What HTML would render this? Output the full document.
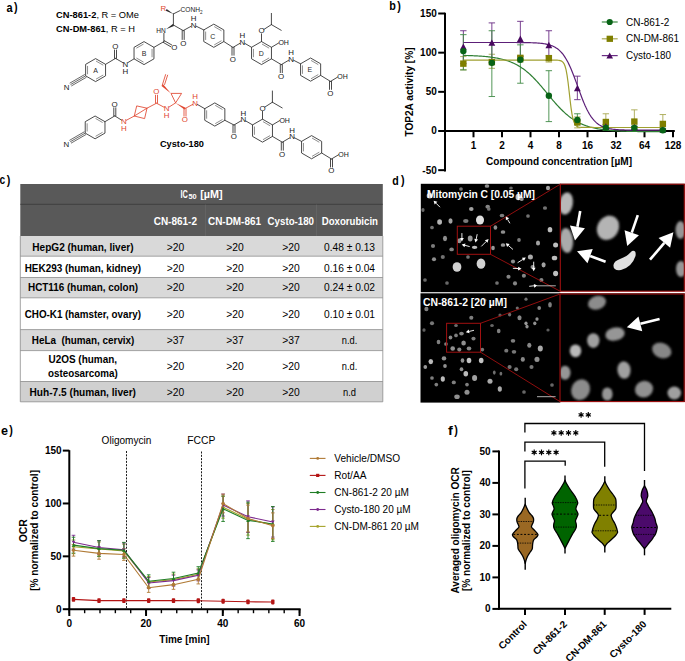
<!DOCTYPE html>
<html><head><meta charset="utf-8"><style>
html,body{margin:0;padding:0;background:#fff;}
body{width:685px;height:661px;overflow:hidden;}
svg{display:block;font-family:"Liberation Sans",sans-serif;}
</style></head><body>
<svg width="685" height="661" viewBox="0 0 685 661">
<defs>
<filter id="bl" x="-50%" y="-50%" width="200%" height="200%"><feGaussianBlur stdDeviation="0.6"/></filter>
<filter id="bl3" x="-50%" y="-50%" width="200%" height="200%"><feGaussianBlur stdDeviation="0.75"/></filter>
<filter id="bl2" x="-50%" y="-50%" width="200%" height="200%"><feGaussianBlur stdDeviation="1.2"/></filter>
</defs>
<text x="6.5" y="11.7" font-size="13" font-weight="bold" text-anchor="start" fill="#000" textLength="6.1" lengthAdjust="spacingAndGlyphs" >a</text>
<text x="14.1" y="11.3" font-size="13" font-weight="bold" text-anchor="start" fill="#000" textLength="3.6" lengthAdjust="spacingAndGlyphs" >)</text>
<text x="389.2" y="9.9" font-size="13" font-weight="bold" text-anchor="start" fill="#000" textLength="6.6" lengthAdjust="spacingAndGlyphs" >b</text>
<text x="397.2" y="9.5" font-size="13" font-weight="bold" text-anchor="start" fill="#000" textLength="3.6" lengthAdjust="spacingAndGlyphs" >)</text>
<text x="-0.6" y="184.3" font-size="13" font-weight="bold" text-anchor="start" fill="#000" textLength="5.7" lengthAdjust="spacingAndGlyphs" >c</text>
<text x="6.7" y="183.8" font-size="13" font-weight="bold" text-anchor="start" fill="#000" textLength="3.6" lengthAdjust="spacingAndGlyphs" >)</text>
<text x="392.3" y="184.6" font-size="13" font-weight="bold" text-anchor="start" fill="#000" textLength="6.5" lengthAdjust="spacingAndGlyphs" >d</text>
<text x="401" y="183.8" font-size="13" font-weight="bold" text-anchor="start" fill="#000" textLength="3.6" lengthAdjust="spacingAndGlyphs" >)</text>
<text x="1.1" y="434.8" font-size="13" font-weight="bold" text-anchor="start" fill="#000" textLength="7" lengthAdjust="spacingAndGlyphs" >e</text>
<text x="9.3" y="434.4" font-size="13" font-weight="bold" text-anchor="start" fill="#000" textLength="3.6" lengthAdjust="spacingAndGlyphs" >)</text>
<text x="448.1" y="434.7" font-size="13" font-weight="bold" text-anchor="start" fill="#000" textLength="4.8" lengthAdjust="spacingAndGlyphs" >f</text>
<text x="454.3" y="434.4" font-size="13" font-weight="bold" text-anchor="start" fill="#000" textLength="3.6" lengthAdjust="spacingAndGlyphs" >)</text>
<rect x="20.3" y="184" width="362.5" height="52" fill="#595959" />
<line x1="20.3" y1="204.3" x2="382.8" y2="204.3" stroke="#3a3a3a" stroke-width="0.8" />
<line x1="205.5" y1="204.5" x2="205.5" y2="236" stroke="#6a6a6a" stroke-width="0.6" />
<line x1="316.5" y1="204.5" x2="316.5" y2="236" stroke="#6a6a6a" stroke-width="0.6" />
<rect x="20.3" y="236" width="362.5" height="20.2" fill="#d9d9d9" />
<rect x="20.3" y="256.2" width="362.5" height="21.3" fill="#ffffff" />
<rect x="20.3" y="277.5" width="362.5" height="20.3" fill="#d9d9d9" />
<rect x="20.3" y="297.8" width="362.5" height="31.8" fill="#ffffff" />
<rect x="20.3" y="329.6" width="362.5" height="21" fill="#d9d9d9" />
<rect x="20.3" y="350.6" width="362.5" height="30.9" fill="#ffffff" />
<rect x="20.3" y="381.5" width="362.5" height="20.3" fill="#d0d0d0" />
<line x1="20.3" y1="256.2" x2="382.8" y2="256.2" stroke="#8c8c8c" stroke-width="0.8" />
<line x1="20.3" y1="277.5" x2="382.8" y2="277.5" stroke="#8c8c8c" stroke-width="0.8" />
<line x1="20.3" y1="297.8" x2="382.8" y2="297.8" stroke="#8c8c8c" stroke-width="0.8" />
<line x1="20.3" y1="329.6" x2="382.8" y2="329.6" stroke="#8c8c8c" stroke-width="0.8" />
<line x1="20.3" y1="350.6" x2="382.8" y2="350.6" stroke="#8c8c8c" stroke-width="0.8" />
<line x1="20.3" y1="381.5" x2="382.8" y2="381.5" stroke="#8c8c8c" stroke-width="0.8" />
<line x1="20.3" y1="401.8" x2="382.8" y2="401.8" stroke="#8c8c8c" stroke-width="0.8" />
<line x1="20.3" y1="236" x2="20.3" y2="401.8" stroke="#8c8c8c" stroke-width="0.8" />
<line x1="382.8" y1="236" x2="382.8" y2="401.8" stroke="#8c8c8c" stroke-width="0.8" />
<text x="180.5" y="198.4" font-size="10" font-weight="bold" text-anchor="start" fill="#fff" textLength="7.4" lengthAdjust="spacingAndGlyphs" >IC</text>
<text x="188.4" y="199.3" font-size="6.5" font-weight="bold" text-anchor="start" fill="#fff" textLength="8.2" lengthAdjust="spacingAndGlyphs" >50</text>
<text x="200.2" y="198.4" font-size="10" font-weight="bold" text-anchor="start" fill="#fff" textLength="22.4" lengthAdjust="spacingAndGlyphs" >[µM]</text>
<text x="153.7" y="224.7" font-size="10" font-weight="bold" text-anchor="start" fill="#fff" textLength="43.3" lengthAdjust="spacingAndGlyphs" >CN-861-2</text>
<text x="208" y="224.7" font-size="10" font-weight="bold" text-anchor="start" fill="#fff" textLength="53" lengthAdjust="spacingAndGlyphs" >CN-DM-861</text>
<text x="267.6" y="224.7" font-size="10" font-weight="bold" text-anchor="start" fill="#fff" textLength="46.4" lengthAdjust="spacingAndGlyphs" >Cysto-180</text>
<text x="321.7" y="224.7" font-size="10" font-weight="bold" text-anchor="start" fill="#fff" textLength="56.3" lengthAdjust="spacingAndGlyphs" >Doxorubicin</text>
<text x="32.3" y="250.8" font-size="10" font-weight="bold" text-anchor="start" fill="#000" textLength="101.2" lengthAdjust="spacingAndGlyphs" >HepG2 (human, liver)</text>
<text x="175.5" y="250.8" font-size="10" font-weight="normal" text-anchor="middle" fill="#000" textLength="17.5" lengthAdjust="spacingAndGlyphs" >&gt;20</text>
<text x="235" y="250.8" font-size="10" font-weight="normal" text-anchor="middle" fill="#000" textLength="17.5" lengthAdjust="spacingAndGlyphs" >&gt;20</text>
<text x="291" y="250.8" font-size="10" font-weight="normal" text-anchor="middle" fill="#000" textLength="17.5" lengthAdjust="spacingAndGlyphs" >&gt;20</text>
<text x="349.5" y="250.8" font-size="10" font-weight="normal" text-anchor="middle" fill="#000" textLength="51" lengthAdjust="spacingAndGlyphs" >0.48 ± 0.13</text>
<text x="24.7" y="271.5" font-size="10" font-weight="bold" text-anchor="start" fill="#000" textLength="116.3" lengthAdjust="spacingAndGlyphs" >HEK293 (human, kidney)</text>
<text x="175.5" y="271.5" font-size="10" font-weight="normal" text-anchor="middle" fill="#000" textLength="17.5" lengthAdjust="spacingAndGlyphs" >&gt;20</text>
<text x="235" y="271.5" font-size="10" font-weight="normal" text-anchor="middle" fill="#000" textLength="17.5" lengthAdjust="spacingAndGlyphs" >&gt;20</text>
<text x="291" y="271.5" font-size="10" font-weight="normal" text-anchor="middle" fill="#000" textLength="17.5" lengthAdjust="spacingAndGlyphs" >&gt;20</text>
<text x="349.5" y="271.5" font-size="10" font-weight="normal" text-anchor="middle" fill="#000" textLength="51" lengthAdjust="spacingAndGlyphs" >0.16 ± 0.04</text>
<text x="28" y="291.2" font-size="10" font-weight="bold" text-anchor="start" fill="#000" textLength="110" lengthAdjust="spacingAndGlyphs" >HCT116 (human, colon)</text>
<text x="175.5" y="291.2" font-size="10" font-weight="normal" text-anchor="middle" fill="#000" textLength="17.5" lengthAdjust="spacingAndGlyphs" >&gt;20</text>
<text x="235" y="291.2" font-size="10" font-weight="normal" text-anchor="middle" fill="#000" textLength="17.5" lengthAdjust="spacingAndGlyphs" >&gt;20</text>
<text x="291" y="291.2" font-size="10" font-weight="normal" text-anchor="middle" fill="#000" textLength="17.5" lengthAdjust="spacingAndGlyphs" >&gt;20</text>
<text x="349.5" y="291.2" font-size="10" font-weight="normal" text-anchor="middle" fill="#000" textLength="51" lengthAdjust="spacingAndGlyphs" >0.24 ± 0.02</text>
<text x="24.7" y="317.8" font-size="10" font-weight="bold" text-anchor="start" fill="#000" textLength="116.3" lengthAdjust="spacingAndGlyphs" >CHO-K1 (hamster, ovary)</text>
<text x="175.5" y="317.8" font-size="10" font-weight="normal" text-anchor="middle" fill="#000" textLength="17.5" lengthAdjust="spacingAndGlyphs" >&gt;20</text>
<text x="235" y="317.8" font-size="10" font-weight="normal" text-anchor="middle" fill="#000" textLength="17.5" lengthAdjust="spacingAndGlyphs" >&gt;20</text>
<text x="291" y="317.8" font-size="10" font-weight="normal" text-anchor="middle" fill="#000" textLength="17.5" lengthAdjust="spacingAndGlyphs" >&gt;20</text>
<text x="349.5" y="317.8" font-size="10" font-weight="normal" text-anchor="middle" fill="#000" textLength="51" lengthAdjust="spacingAndGlyphs" >0.10 ± 0.01</text>
<text x="31.8" y="343.8" font-size="10" font-weight="bold" text-anchor="start" fill="#000" textLength="102.6" lengthAdjust="spacingAndGlyphs" >HeLa&#160; (human, cervix)</text>
<text x="175.5" y="343.8" font-size="10" font-weight="normal" text-anchor="middle" fill="#000" textLength="17.5" lengthAdjust="spacingAndGlyphs" >&gt;37</text>
<text x="235" y="343.8" font-size="10" font-weight="normal" text-anchor="middle" fill="#000" textLength="17.5" lengthAdjust="spacingAndGlyphs" >&gt;37</text>
<text x="291" y="343.8" font-size="10" font-weight="normal" text-anchor="middle" fill="#000" textLength="17.5" lengthAdjust="spacingAndGlyphs" >&gt;37</text>
<text x="349.5" y="343.8" font-size="10" font-weight="normal" text-anchor="middle" fill="#000" textLength="15.5" lengthAdjust="spacingAndGlyphs" >n.d.</text>
<text x="175.5" y="369.8" font-size="10" font-weight="normal" text-anchor="middle" fill="#000" textLength="17.5" lengthAdjust="spacingAndGlyphs" >&gt;20</text>
<text x="235" y="369.8" font-size="10" font-weight="normal" text-anchor="middle" fill="#000" textLength="17.5" lengthAdjust="spacingAndGlyphs" >&gt;20</text>
<text x="291" y="369.8" font-size="10" font-weight="normal" text-anchor="middle" fill="#000" textLength="17.5" lengthAdjust="spacingAndGlyphs" >&gt;20</text>
<text x="349.5" y="369.8" font-size="10" font-weight="normal" text-anchor="middle" fill="#000" textLength="15.5" lengthAdjust="spacingAndGlyphs" >n.d.</text>
<text x="29.5" y="396" font-size="10" font-weight="bold" text-anchor="start" fill="#000" textLength="106.5" lengthAdjust="spacingAndGlyphs" >Huh-7.5 (human, liver)</text>
<text x="175.5" y="396" font-size="10" font-weight="normal" text-anchor="middle" fill="#000" textLength="17.5" lengthAdjust="spacingAndGlyphs" >&gt;20</text>
<text x="235" y="396" font-size="10" font-weight="normal" text-anchor="middle" fill="#000" textLength="17.5" lengthAdjust="spacingAndGlyphs" >&gt;20</text>
<text x="291" y="396" font-size="10" font-weight="normal" text-anchor="middle" fill="#000" textLength="17.5" lengthAdjust="spacingAndGlyphs" >&gt;20</text>
<text x="349.5" y="396" font-size="10" font-weight="normal" text-anchor="middle" fill="#000" textLength="13" lengthAdjust="spacingAndGlyphs" >n.d</text>
<text x="48.5" y="363.4" font-size="10" font-weight="bold" text-anchor="start" fill="#000" textLength="68.5" lengthAdjust="spacingAndGlyphs" >U2OS (human,</text>
<text x="48" y="376.6" font-size="10" font-weight="bold" text-anchor="start" fill="#000" textLength="69.7" lengthAdjust="spacingAndGlyphs" >osteosarcoma)</text>
<rect x="420.8" y="183.8" width="139.5" height="108.4" fill="#000" />
<rect x="420.5" y="293.3" width="139.8" height="109.3" fill="#000" />
<rect x="560" y="183.8" width="124.8" height="107.4" fill="#000" />
<rect x="559.5" y="293.3" width="125.3" height="108.7" fill="#000" />
<ellipse cx="429.7" cy="195.8" rx="2.99" ry="2.76" fill="rgb(180,180,180)" filter="url(#bl3)" transform="rotate(0 429.7 195.8)"/>
<ellipse cx="471.3" cy="209" rx="2.3" ry="2.07" fill="rgb(161,161,161)" filter="url(#bl3)" transform="rotate(0 471.3 209)"/>
<ellipse cx="480" cy="220" rx="4.02" ry="4.48" fill="rgb(223,223,223)" filter="url(#bl3)" transform="rotate(0 480 220)"/>
<ellipse cx="487.7" cy="206.7" rx="2.3" ry="1.84" fill="rgb(133,133,133)" filter="url(#bl3)" transform="rotate(0 487.7 206.7)"/>
<ellipse cx="439.6" cy="222" rx="2.42" ry="2.64" fill="rgb(180,180,180)" filter="url(#bl3)" transform="rotate(0 439.6 222)"/>
<ellipse cx="450.5" cy="221" rx="2.07" ry="2.64" fill="rgb(161,161,161)" filter="url(#bl3)" transform="rotate(0 450.5 221)"/>
<ellipse cx="465.8" cy="221" rx="2.76" ry="1.95" fill="rgb(123,123,123)" filter="url(#bl3)" transform="rotate(0 465.8 221)"/>
<ellipse cx="433" cy="246" rx="2.07" ry="2.07" fill="rgb(123,123,123)" filter="url(#bl3)" transform="rotate(0 433 246)"/>
<ellipse cx="445" cy="238.5" rx="2.07" ry="2.64" fill="rgb(142,142,142)" filter="url(#bl3)" transform="rotate(0 445 238.5)"/>
<ellipse cx="451.6" cy="249.4" rx="2.3" ry="1.84" fill="rgb(133,133,133)" filter="url(#bl3)" transform="rotate(0 451.6 249.4)"/>
<ellipse cx="470.2" cy="238.5" rx="2.42" ry="2.88" fill="rgb(152,152,152)" filter="url(#bl3)" transform="rotate(0 470.2 238.5)"/>
<ellipse cx="474.6" cy="247.3" rx="2.76" ry="1.61" fill="rgb(190,190,190)" filter="url(#bl3)" transform="rotate(0 474.6 247.3)"/>
<ellipse cx="459.3" cy="240.7" rx="2.07" ry="2.53" fill="rgb(152,152,152)" filter="url(#bl3)" transform="rotate(0 459.3 240.7)"/>
<ellipse cx="434" cy="259.3" rx="2.07" ry="2.07" fill="rgb(142,142,142)" filter="url(#bl3)" transform="rotate(0 434 259.3)"/>
<ellipse cx="442.8" cy="257" rx="2.07" ry="2.07" fill="rgb(114,114,114)" filter="url(#bl3)" transform="rotate(0 442.8 257)"/>
<ellipse cx="457" cy="267" rx="4.37" ry="4.83" fill="rgb(209,209,209)" filter="url(#bl3)" transform="rotate(0 457 267)"/>
<ellipse cx="481" cy="263.7" rx="4.37" ry="5.17" fill="rgb(209,209,209)" filter="url(#bl3)" transform="rotate(0 481 263.7)"/>
<ellipse cx="468" cy="257" rx="1.84" ry="1.84" fill="rgb(114,114,114)" filter="url(#bl3)" transform="rotate(0 468 257)"/>
<ellipse cx="495.4" cy="227.5" rx="1.84" ry="2.3" fill="rgb(142,142,142)" filter="url(#bl3)" transform="rotate(0 495.4 227.5)"/>
<ellipse cx="503" cy="232" rx="2.3" ry="1.84" fill="rgb(142,142,142)" filter="url(#bl3)" transform="rotate(0 503 232)"/>
<ellipse cx="503" cy="245" rx="2.3" ry="1.84" fill="rgb(152,152,152)" filter="url(#bl3)" transform="rotate(0 503 245)"/>
<ellipse cx="502" cy="215.5" rx="2.3" ry="1.84" fill="rgb(123,123,123)" filter="url(#bl3)" transform="rotate(0 502 215.5)"/>
<ellipse cx="488.8" cy="209" rx="1.84" ry="1.84" fill="rgb(114,114,114)" filter="url(#bl3)" transform="rotate(0 488.8 209)"/>
<ellipse cx="518.4" cy="197" rx="2.88" ry="3.22" fill="rgb(190,190,190)" filter="url(#bl3)" transform="rotate(0 518.4 197)"/>
<ellipse cx="521.7" cy="199" rx="2.07" ry="2.07" fill="rgb(152,152,152)" filter="url(#bl3)" transform="rotate(0 521.7 199)"/>
<ellipse cx="548" cy="188" rx="2.07" ry="2.3" fill="rgb(161,161,161)" filter="url(#bl3)" transform="rotate(0 548 188)"/>
<ellipse cx="550" cy="229.7" rx="2.3" ry="2.64" fill="rgb(190,190,190)" filter="url(#bl3)" transform="rotate(0 550 229.7)"/>
<ellipse cx="538" cy="243" rx="2.07" ry="2.53" fill="rgb(161,161,161)" filter="url(#bl3)" transform="rotate(0 538 243)"/>
<ellipse cx="555.6" cy="245" rx="2.53" ry="2.53" fill="rgb(190,190,190)" filter="url(#bl3)" transform="rotate(0 555.6 245)"/>
<ellipse cx="530.4" cy="257" rx="2.53" ry="2.53" fill="rgb(171,171,171)" filter="url(#bl3)" transform="rotate(0 530.4 257)"/>
<ellipse cx="513" cy="261.5" rx="2.07" ry="2.07" fill="rgb(142,142,142)" filter="url(#bl3)" transform="rotate(0 513 261.5)"/>
<ellipse cx="543.6" cy="264.8" rx="2.07" ry="2.64" fill="rgb(161,161,161)" filter="url(#bl3)" transform="rotate(0 543.6 264.8)"/>
<ellipse cx="554.5" cy="258" rx="2.76" ry="2.3" fill="rgb(190,190,190)" filter="url(#bl3)" transform="rotate(0 554.5 258)"/>
<ellipse cx="555.6" cy="273.5" rx="2.53" ry="2.76" fill="rgb(190,190,190)" filter="url(#bl3)" transform="rotate(0 555.6 273.5)"/>
<ellipse cx="508.5" cy="276.8" rx="2.07" ry="2.07" fill="rgb(133,133,133)" filter="url(#bl3)" transform="rotate(0 508.5 276.8)"/>
<ellipse cx="523.9" cy="275.7" rx="2.07" ry="2.07" fill="rgb(133,133,133)" filter="url(#bl3)" transform="rotate(0 523.9 275.7)"/>
<ellipse cx="532.6" cy="267" rx="2.07" ry="2.07" fill="rgb(142,142,142)" filter="url(#bl3)" transform="rotate(0 532.6 267)"/>
<ellipse cx="515" cy="283.4" rx="2.07" ry="2.07" fill="rgb(133,133,133)" filter="url(#bl3)" transform="rotate(0 515 283.4)"/>
<ellipse cx="541.4" cy="280" rx="2.07" ry="2.07" fill="rgb(133,133,133)" filter="url(#bl3)" transform="rotate(0 541.4 280)"/>
<ellipse cx="487" cy="186" rx="2.3" ry="1.84" fill="rgb(142,142,142)" filter="url(#bl3)" transform="rotate(0 487 186)"/>
<ellipse cx="432" cy="227.5" rx="1.84" ry="1.84" fill="rgb(114,114,114)" filter="url(#bl3)" transform="rotate(0 432 227.5)"/>
<ellipse cx="493" cy="248" rx="1.84" ry="2.3" fill="rgb(152,152,152)" filter="url(#bl3)" transform="rotate(0 493 248)"/>
<ellipse cx="461" cy="189" rx="1.84" ry="1.84" fill="rgb(114,114,114)" filter="url(#bl3)" transform="rotate(0 461 189)"/>
<ellipse cx="511" cy="188" rx="1.84" ry="1.61" fill="rgb(104,104,104)" filter="url(#bl3)" transform="rotate(0 511 188)"/>
<ellipse cx="528" cy="216" rx="1.84" ry="1.84" fill="rgb(114,114,114)" filter="url(#bl3)" transform="rotate(0 528 216)"/>
<ellipse cx="545" cy="208" rx="2.07" ry="1.84" fill="rgb(114,114,114)" filter="url(#bl3)" transform="rotate(0 545 208)"/>
<ellipse cx="423" cy="210" rx="1.61" ry="2.07" fill="rgb(104,104,104)" filter="url(#bl3)" transform="rotate(0 423 210)"/>
<ellipse cx="425" cy="280" rx="1.84" ry="1.84" fill="rgb(104,104,104)" filter="url(#bl3)" transform="rotate(0 425 280)"/>
<ellipse cx="447" cy="283" rx="1.84" ry="1.84" fill="rgb(104,104,104)" filter="url(#bl3)" transform="rotate(0 447 283)"/>
<ellipse cx="497" cy="283" rx="1.84" ry="1.84" fill="rgb(114,114,114)" filter="url(#bl3)" transform="rotate(0 497 283)"/>
<ellipse cx="519" cy="240" rx="1.84" ry="2.07" fill="rgb(123,123,123)" filter="url(#bl3)" transform="rotate(0 519 240)"/>
<ellipse cx="426.4" cy="309" rx="2.07" ry="2.3" fill="rgb(127,127,127)" filter="url(#bl3)" transform="rotate(0 426.4 309)"/>
<ellipse cx="432" cy="323.3" rx="2.07" ry="2.07" fill="rgb(119,119,119)" filter="url(#bl3)" transform="rotate(0 432 323.3)"/>
<ellipse cx="438.5" cy="342" rx="1.84" ry="2.3" fill="rgb(127,127,127)" filter="url(#bl3)" transform="rotate(0 438.5 342)"/>
<ellipse cx="430.8" cy="361.6" rx="2.3" ry="2.53" fill="rgb(187,187,187)" filter="url(#bl3)" transform="rotate(0 430.8 361.6)"/>
<ellipse cx="425.3" cy="367" rx="1.84" ry="2.07" fill="rgb(153,153,153)" filter="url(#bl3)" transform="rotate(0 425.3 367)"/>
<ellipse cx="444" cy="358.4" rx="2.3" ry="2.07" fill="rgb(144,144,144)" filter="url(#bl3)" transform="rotate(0 444 358.4)"/>
<ellipse cx="445" cy="366" rx="1.84" ry="2.07" fill="rgb(144,144,144)" filter="url(#bl3)" transform="rotate(0 445 366)"/>
<ellipse cx="442.8" cy="379" rx="2.07" ry="2.76" fill="rgb(187,187,187)" filter="url(#bl3)" transform="rotate(0 442.8 379)"/>
<ellipse cx="432" cy="378" rx="1.84" ry="1.84" fill="rgb(127,127,127)" filter="url(#bl3)" transform="rotate(0 432 378)"/>
<ellipse cx="436.3" cy="384.6" rx="1.84" ry="1.84" fill="rgb(127,127,127)" filter="url(#bl3)" transform="rotate(0 436.3 384.6)"/>
<ellipse cx="453.8" cy="382.4" rx="2.07" ry="1.84" fill="rgb(127,127,127)" filter="url(#bl3)" transform="rotate(0 453.8 382.4)"/>
<ellipse cx="457" cy="396.7" rx="2.76" ry="2.3" fill="rgb(144,144,144)" filter="url(#bl3)" transform="rotate(0 457 396.7)"/>
<ellipse cx="467" cy="392.3" rx="2.53" ry="2.53" fill="rgb(144,144,144)" filter="url(#bl3)" transform="rotate(0 467 392.3)"/>
<ellipse cx="462.5" cy="360.5" rx="1.84" ry="2.3" fill="rgb(144,144,144)" filter="url(#bl3)" transform="rotate(0 462.5 360.5)"/>
<ellipse cx="469" cy="360.5" rx="2.3" ry="2.76" fill="rgb(195,195,195)" filter="url(#bl3)" transform="rotate(0 469 360.5)"/>
<ellipse cx="481.2" cy="360.5" rx="2.3" ry="2.76" fill="rgb(195,195,195)" filter="url(#bl3)" transform="rotate(0 481.2 360.5)"/>
<ellipse cx="461.5" cy="369.3" rx="1.84" ry="2.07" fill="rgb(144,144,144)" filter="url(#bl3)" transform="rotate(0 461.5 369.3)"/>
<ellipse cx="465.8" cy="373.7" rx="2.3" ry="2.76" fill="rgb(187,187,187)" filter="url(#bl3)" transform="rotate(0 465.8 373.7)"/>
<ellipse cx="474.6" cy="378" rx="2.53" ry="2.99" fill="rgb(161,161,161)" filter="url(#bl3)" transform="rotate(0 474.6 378)"/>
<ellipse cx="467" cy="384.6" rx="1.84" ry="1.84" fill="rgb(127,127,127)" filter="url(#bl3)" transform="rotate(0 467 384.6)"/>
<ellipse cx="490" cy="381.3" rx="2.53" ry="2.53" fill="rgb(170,170,170)" filter="url(#bl3)" transform="rotate(0 490 381.3)"/>
<ellipse cx="499.8" cy="389" rx="2.07" ry="2.76" fill="rgb(170,170,170)" filter="url(#bl3)" transform="rotate(0 499.8 389)"/>
<ellipse cx="494.3" cy="372.6" rx="1.38" ry="2.07" fill="rgb(110,110,110)" filter="url(#bl3)" transform="rotate(0 494.3 372.6)"/>
<ellipse cx="500.9" cy="373.7" rx="1.38" ry="1.84" fill="rgb(110,110,110)" filter="url(#bl3)" transform="rotate(0 500.9 373.7)"/>
<ellipse cx="509.6" cy="367" rx="2.07" ry="2.07" fill="rgb(119,119,119)" filter="url(#bl3)" transform="rotate(0 509.6 367)"/>
<ellipse cx="516.2" cy="369.3" rx="2.07" ry="2.07" fill="rgb(119,119,119)" filter="url(#bl3)" transform="rotate(0 516.2 369.3)"/>
<ellipse cx="531.5" cy="367" rx="2.07" ry="2.07" fill="rgb(119,119,119)" filter="url(#bl3)" transform="rotate(0 531.5 367)"/>
<ellipse cx="537" cy="359.4" rx="2.53" ry="2.53" fill="rgb(144,144,144)" filter="url(#bl3)" transform="rotate(0 537 359.4)"/>
<ellipse cx="522.8" cy="359.4" rx="2.07" ry="2.3" fill="rgb(136,136,136)" filter="url(#bl3)" transform="rotate(0 522.8 359.4)"/>
<ellipse cx="506.3" cy="350.7" rx="2.07" ry="1.84" fill="rgb(119,119,119)" filter="url(#bl3)" transform="rotate(0 506.3 350.7)"/>
<ellipse cx="514" cy="351.8" rx="2.3" ry="1.84" fill="rgb(119,119,119)" filter="url(#bl3)" transform="rotate(0 514 351.8)"/>
<ellipse cx="529.3" cy="345.2" rx="2.07" ry="2.53" fill="rgb(136,136,136)" filter="url(#bl3)" transform="rotate(0 529.3 345.2)"/>
<ellipse cx="540.3" cy="348.5" rx="2.53" ry="2.99" fill="rgb(170,170,170)" filter="url(#bl3)" transform="rotate(0 540.3 348.5)"/>
<ellipse cx="513" cy="340.8" rx="2.3" ry="1.84" fill="rgb(127,127,127)" filter="url(#bl3)" transform="rotate(0 513 340.8)"/>
<ellipse cx="492" cy="325.5" rx="1.84" ry="1.61" fill="rgb(102,102,102)" filter="url(#bl3)" transform="rotate(0 492 325.5)"/>
<ellipse cx="498.7" cy="331" rx="1.84" ry="2.3" fill="rgb(127,127,127)" filter="url(#bl3)" transform="rotate(0 498.7 331)"/>
<ellipse cx="519.5" cy="317.8" rx="2.07" ry="2.53" fill="rgb(136,136,136)" filter="url(#bl3)" transform="rotate(0 519.5 317.8)"/>
<ellipse cx="526" cy="323.3" rx="1.61" ry="1.84" fill="rgb(153,153,153)" filter="url(#bl3)" transform="rotate(0 526 323.3)"/>
<ellipse cx="534.8" cy="323.3" rx="1.61" ry="1.84" fill="rgb(144,144,144)" filter="url(#bl3)" transform="rotate(0 534.8 323.3)"/>
<ellipse cx="537" cy="319" rx="1.61" ry="1.84" fill="rgb(144,144,144)" filter="url(#bl3)" transform="rotate(0 537 319)"/>
<ellipse cx="527" cy="326.6" rx="1.61" ry="1.84" fill="rgb(144,144,144)" filter="url(#bl3)" transform="rotate(0 527 326.6)"/>
<ellipse cx="539.2" cy="308" rx="1.84" ry="2.07" fill="rgb(127,127,127)" filter="url(#bl3)" transform="rotate(0 539.2 308)"/>
<ellipse cx="517.3" cy="308" rx="1.61" ry="1.61" fill="rgb(110,110,110)" filter="url(#bl3)" transform="rotate(0 517.3 308)"/>
<ellipse cx="509.6" cy="314.6" rx="1.61" ry="1.84" fill="rgb(110,110,110)" filter="url(#bl3)" transform="rotate(0 509.6 314.6)"/>
<ellipse cx="526" cy="299.2" rx="1.61" ry="1.61" fill="rgb(110,110,110)" filter="url(#bl3)" transform="rotate(0 526 299.2)"/>
<ellipse cx="471.3" cy="317.8" rx="2.07" ry="2.07" fill="rgb(127,127,127)" filter="url(#bl3)" transform="rotate(0 471.3 317.8)"/>
<ellipse cx="456" cy="325.5" rx="1.84" ry="1.61" fill="rgb(110,110,110)" filter="url(#bl3)" transform="rotate(0 456 325.5)"/>
<ellipse cx="450.5" cy="337.5" rx="1.84" ry="2.07" fill="rgb(136,136,136)" filter="url(#bl3)" transform="rotate(0 450.5 337.5)"/>
<ellipse cx="456" cy="335.4" rx="1.84" ry="1.84" fill="rgb(127,127,127)" filter="url(#bl3)" transform="rotate(0 456 335.4)"/>
<ellipse cx="461.5" cy="333.6" rx="2.3" ry="1.84" fill="rgb(136,136,136)" filter="url(#bl3)" transform="rotate(0 461.5 333.6)"/>
<ellipse cx="473.5" cy="338.6" rx="2.07" ry="1.84" fill="rgb(127,127,127)" filter="url(#bl3)" transform="rotate(0 473.5 338.6)"/>
<ellipse cx="463.6" cy="343" rx="2.3" ry="2.53" fill="rgb(144,144,144)" filter="url(#bl3)" transform="rotate(0 463.6 343)"/>
<ellipse cx="452.7" cy="348.5" rx="2.3" ry="2.3" fill="rgb(144,144,144)" filter="url(#bl3)" transform="rotate(0 452.7 348.5)"/>
<ellipse cx="459.3" cy="349.6" rx="2.07" ry="2.07" fill="rgb(136,136,136)" filter="url(#bl3)" transform="rotate(0 459.3 349.6)"/>
<ellipse cx="469" cy="348.5" rx="2.3" ry="2.07" fill="rgb(136,136,136)" filter="url(#bl3)" transform="rotate(0 469 348.5)"/>
<ellipse cx="482.3" cy="349.6" rx="1.84" ry="1.84" fill="rgb(119,119,119)" filter="url(#bl3)" transform="rotate(0 482.3 349.6)"/>
<ellipse cx="446" cy="344" rx="1.84" ry="1.84" fill="rgb(127,127,127)" filter="url(#bl3)" transform="rotate(0 446 344)"/>
<ellipse cx="550" cy="304.7" rx="1.84" ry="2.76" fill="rgb(127,127,127)" filter="url(#bl3)" transform="rotate(0 550 304.7)"/>
<ellipse cx="424" cy="330" rx="1.61" ry="1.84" fill="rgb(93,93,93)" filter="url(#bl3)" transform="rotate(0 424 330)"/>
<ellipse cx="485" cy="300" rx="1.61" ry="1.61" fill="rgb(85,85,85)" filter="url(#bl3)" transform="rotate(0 485 300)"/>
<ellipse cx="500" cy="315" rx="1.61" ry="1.61" fill="rgb(93,93,93)" filter="url(#bl3)" transform="rotate(0 500 315)"/>
<ellipse cx="548" cy="330" rx="1.61" ry="1.61" fill="rgb(93,93,93)" filter="url(#bl3)" transform="rotate(0 548 330)"/>
<ellipse cx="552" cy="385" rx="1.84" ry="1.84" fill="rgb(102,102,102)" filter="url(#bl3)" transform="rotate(0 552 385)"/>
<ellipse cx="524" cy="392" rx="1.84" ry="1.84" fill="rgb(102,102,102)" filter="url(#bl3)" transform="rotate(0 524 392)"/>
<clipPath id="cz1"><rect x="560.8" y="184.6" width="123.2" height="106.2"/></clipPath>
<clipPath id="cz2"><rect x="560.5" y="294.4" width="123.4" height="106.8"/></clipPath>
<g clip-path="url(#cz1)">
<ellipse cx="566" cy="203.5" rx="6.8" ry="11.2" fill="rgb(185,185,185)" filter="url(#bl2)" transform="rotate(10 566 203.5)"/>
<ellipse cx="608" cy="227.8" rx="10.6" ry="12.6" fill="rgb(180,180,180)" filter="url(#bl2)" transform="rotate(30 608 227.8)"/>
<ellipse cx="566.5" cy="240.4" rx="6.6" ry="12.4" fill="rgb(170,170,170)" filter="url(#bl2)" transform="rotate(-5 566.5 240.4)"/>
<ellipse cx="680.5" cy="230" rx="5" ry="9" fill="rgb(150,150,150)" filter="url(#bl2)" transform="rotate(0 680.5 230)"/>
<ellipse cx="681" cy="269" rx="5" ry="8" fill="rgb(150,150,150)" filter="url(#bl2)" transform="rotate(0 681 269)"/>
<path d="M613.5,265 Q613,271 621,270 Q632,267 635.5,256 Q636.5,250 632,251 Q628,256 620,259 Q614,261 613.5,265 Z" fill="rgb(225,225,225)" filter="url(#bl)"/>
</g><g clip-path="url(#cz2)">
<ellipse cx="597" cy="302.7" rx="9.3" ry="6.8" fill="rgb(140,140,140)" filter="url(#bl2)" transform="rotate(-18 597 302.7)"/>
<ellipse cx="615" cy="334" rx="9.8" ry="6.6" fill="rgb(150,150,150)" filter="url(#bl2)" transform="rotate(-12 615 334)"/>
<ellipse cx="593.3" cy="340.6" rx="6.2" ry="7.4" fill="rgb(160,160,160)" filter="url(#bl2)" transform="rotate(0 593.3 340.6)"/>
<ellipse cx="575.5" cy="350.8" rx="5.8" ry="6.4" fill="rgb(185,185,185)" filter="url(#bl2)" transform="rotate(0 575.5 350.8)"/>
<ellipse cx="661.7" cy="350.5" rx="10" ry="7.6" fill="rgb(135,135,135)" filter="url(#bl2)" transform="rotate(22 661.7 350.5)"/>
<ellipse cx="565" cy="372.8" rx="5.6" ry="7" fill="rgb(150,150,150)" filter="url(#bl2)" transform="rotate(0 565 372.8)"/>
<ellipse cx="624" cy="370" rx="6.6" ry="8.8" fill="rgb(160,160,160)" filter="url(#bl2)" transform="rotate(-5 624 370)"/>
<ellipse cx="580.6" cy="389.7" rx="9.2" ry="10.6" fill="rgb(140,140,140)" filter="url(#bl2)" transform="rotate(25 580.6 389.7)"/>
<ellipse cx="607.3" cy="394" rx="5.3" ry="6.6" fill="rgb(150,150,150)" filter="url(#bl2)" transform="rotate(0 607.3 394)"/>
<ellipse cx="644" cy="389.2" rx="9.2" ry="8.2" fill="rgb(145,145,145)" filter="url(#bl2)" transform="rotate(-20 644 389.2)"/>
<ellipse cx="674.3" cy="393" rx="6.8" ry="6.4" fill="rgb(160,160,160)" filter="url(#bl2)" transform="rotate(0 674.3 393)"/>
</g>
<rect x="457.3" y="226.2" width="33.2" height="28.1" fill="none" stroke="#a01010" stroke-width="1"/>
<line x1="490.5" y1="226.2" x2="560.3" y2="184.2" stroke="#a01010" stroke-width="0.9" />
<line x1="490.5" y1="254.3" x2="560.3" y2="291.3" stroke="#a01010" stroke-width="0.9" />
<rect x="560.3" y="184.2" width="124" height="107" fill="none" stroke="#a01010" stroke-width="1.1"/>
<rect x="446.6" y="323.3" width="33.9" height="28.9" fill="none" stroke="#a01010" stroke-width="1"/>
<line x1="480.5" y1="323.3" x2="560" y2="294" stroke="#a01010" stroke-width="0.9" />
<line x1="480.5" y1="352.2" x2="560" y2="401.6" stroke="#a01010" stroke-width="0.9" />
<rect x="560" y="294" width="124.2" height="107.6" fill="none" stroke="#a01010" stroke-width="1.1"/>
<line x1="440" y1="207.2" x2="436" y2="203.2" stroke="#fff" stroke-width="0.9" />
<polygon points="433.6,200.8 437.35,201.86 434.66,204.55" fill="#fff"/>
<line x1="509.9" y1="223.3" x2="507.54" y2="219.32" stroke="#fff" stroke-width="0.9" />
<polygon points="505.8,216.4 509.17,218.35 505.9,220.29" fill="#fff"/>
<line x1="513" y1="249.5" x2="508.38" y2="245.52" stroke="#fff" stroke-width="0.9" />
<polygon points="505.8,243.3 509.62,244.08 507.14,246.96" fill="#fff"/>
<line x1="517.6" y1="262.7" x2="522.91" y2="259.4" stroke="#fff" stroke-width="0.9" />
<polygon points="525.8,257.6 523.92,261.01 521.91,257.78" fill="#fff"/>
<line x1="512.9" y1="268.3" x2="518.1" y2="268.54" stroke="#fff" stroke-width="0.9" />
<polygon points="521.5,268.7 518.02,270.44 518.19,266.64" fill="#fff"/>
<line x1="533.7" y1="261.7" x2="533.7" y2="267.8" stroke="#fff" stroke-width="0.9" />
<polygon points="533.7,271.2 531.8,267.8 535.6,267.8" fill="#fff"/>
<line x1="529.2" y1="286.3" x2="534.02" y2="285.77" stroke="#fff" stroke-width="0.9" />
<polygon points="537.4,285.4 534.23,287.66 533.81,283.88" fill="#fff"/>
<line x1="461.9" y1="233.1" x2="461.9" y2="238.1" stroke="#fff" stroke-width="0.9" />
<polygon points="461.9,241.5 460,238.1 463.8,238.1" fill="#fff"/>
<line x1="477.2" y1="234.2" x2="476.18" y2="239.17" stroke="#fff" stroke-width="0.9" />
<polygon points="475.5,242.5 474.32,238.79 478.04,239.55" fill="#fff"/>
<line x1="469.7" y1="246.6" x2="464.98" y2="245.3" stroke="#fff" stroke-width="0.9" />
<polygon points="461.7,244.4 465.48,243.47 464.47,247.13" fill="#fff"/>
<line x1="481.3" y1="246.4" x2="486.2" y2="241.5" stroke="#fff" stroke-width="0.9" />
<polygon points="488.6,239.1 487.54,242.85 484.85,240.16" fill="#fff"/>
<line x1="474" y1="330.3" x2="469.11" y2="331.43" stroke="#fff" stroke-width="0.9" />
<polygon points="465.8,332.2 468.68,329.58 469.54,333.28" fill="#fff"/>
<line x1="580.2" y1="211" x2="577.42" y2="226.81" stroke="#fff" stroke-width="2.6" />
<polygon points="575,240.6 569.94,225.5 584.91,228.13" fill="#fff"/>
<line x1="605.6" y1="261.8" x2="590.13" y2="256.07" stroke="#fff" stroke-width="2.6" />
<polygon points="577,251.2 592.77,248.94 587.49,263.19" fill="#fff"/>
<line x1="637.8" y1="215.2" x2="631.77" y2="232.67" stroke="#fff" stroke-width="2.6" />
<polygon points="627.2,245.9 624.59,230.19 638.95,235.15" fill="#fff"/>
<line x1="650" y1="259.7" x2="664.33" y2="242.86" stroke="#fff" stroke-width="2.6" />
<polygon points="673.4,232.2 670.12,247.79 658.54,237.94" fill="#fff"/>
<line x1="659.6" y1="318.9" x2="640.36" y2="323.83" stroke="#fff" stroke-width="2.6" />
<polygon points="626.8,327.3 638.48,316.46 642.25,331.19" fill="#fff"/>
<line x1="537" y1="285.8" x2="555.8" y2="285.8" stroke="#ddd" stroke-width="0.8" />
<line x1="537" y1="396.7" x2="555.6" y2="396.7" stroke="#ddd" stroke-width="0.8" />
<text x="427" y="197.8" font-size="10.8" font-weight="bold" text-anchor="start" fill="#fff" textLength="108" lengthAdjust="spacingAndGlyphs" >Mitomycin C [0.05 µM]</text>
<text x="422.9" y="306.4" font-size="11" font-weight="bold" text-anchor="start" fill="#fff" textLength="84" lengthAdjust="spacingAndGlyphs" >CN-861-2 [20 µM]</text>
<line x1="445" y1="12.8" x2="445" y2="171.5" stroke="#000" stroke-width="2" />
<line x1="438.2" y1="13.5" x2="445" y2="13.5" stroke="#000" stroke-width="2" />
<text x="436.8" y="16.9" font-size="10" font-weight="bold" text-anchor="end" fill="#000" >150</text>
<line x1="438.2" y1="52.67" x2="445" y2="52.67" stroke="#000" stroke-width="2" />
<text x="436.8" y="56.07" font-size="10" font-weight="bold" text-anchor="end" fill="#000" >100</text>
<line x1="438.2" y1="91.84" x2="445" y2="91.84" stroke="#000" stroke-width="2" />
<text x="436.8" y="95.24" font-size="10" font-weight="bold" text-anchor="end" fill="#000" >50</text>
<line x1="438.2" y1="131" x2="445" y2="131" stroke="#000" stroke-width="2" />
<text x="436.8" y="134.4" font-size="10" font-weight="bold" text-anchor="end" fill="#000" >0</text>
<line x1="438.2" y1="170.16" x2="445" y2="170.16" stroke="#000" stroke-width="2" />
<text x="436.8" y="173.56" font-size="10" font-weight="bold" text-anchor="end" fill="#000" >-50</text>
<line x1="444" y1="131" x2="674.8" y2="131" stroke="#000" stroke-width="2" />
<line x1="473.5" y1="131" x2="473.5" y2="137.3" stroke="#000" stroke-width="2" />
<text x="473.5" y="148.8" font-size="10" font-weight="bold" text-anchor="middle" fill="#000" >1</text>
<line x1="502" y1="131" x2="502" y2="137.3" stroke="#000" stroke-width="2" />
<text x="502" y="148.8" font-size="10" font-weight="bold" text-anchor="middle" fill="#000" >2</text>
<line x1="530.5" y1="131" x2="530.5" y2="137.3" stroke="#000" stroke-width="2" />
<text x="530.5" y="148.8" font-size="10" font-weight="bold" text-anchor="middle" fill="#000" >4</text>
<line x1="559" y1="131" x2="559" y2="137.3" stroke="#000" stroke-width="2" />
<text x="559" y="148.8" font-size="10" font-weight="bold" text-anchor="middle" fill="#000" >8</text>
<line x1="587.5" y1="131" x2="587.5" y2="137.3" stroke="#000" stroke-width="2" />
<text x="587.5" y="148.8" font-size="10" font-weight="bold" text-anchor="middle" fill="#000" >16</text>
<line x1="616" y1="131" x2="616" y2="137.3" stroke="#000" stroke-width="2" />
<text x="616" y="148.8" font-size="10" font-weight="bold" text-anchor="middle" fill="#000" >32</text>
<line x1="644.5" y1="131" x2="644.5" y2="137.3" stroke="#000" stroke-width="2" />
<text x="644.5" y="148.8" font-size="10" font-weight="bold" text-anchor="middle" fill="#000" >64</text>
<line x1="673" y1="131" x2="673" y2="137.3" stroke="#000" stroke-width="2" />
<text x="673" y="148.8" font-size="10" font-weight="bold" text-anchor="middle" fill="#000" >128</text>
<text x="486" y="164.9" font-size="10" font-weight="bold" text-anchor="start" fill="#000" textLength="146" lengthAdjust="spacingAndGlyphs" >Compound concentration [µM]</text>
<text x="413.3" y="92" font-size="10" font-weight="bold" text-anchor="middle" fill="#000" textLength="89" lengthAdjust="spacingAndGlyphs" transform="rotate(-90 413.3 92)">TOP2A activity [%]</text>
<line x1="463.35" y1="56.59" x2="463.35" y2="69.9" stroke="#a8a850" stroke-width="0.9" />
<line x1="460.15" y1="56.59" x2="466.55" y2="56.59" stroke="#a8a850" stroke-width="0.9" />
<line x1="460.15" y1="69.9" x2="466.55" y2="69.9" stroke="#a8a850" stroke-width="0.9" />
<line x1="491.85" y1="54.24" x2="491.85" y2="68.34" stroke="#a8a850" stroke-width="0.9" />
<line x1="488.65" y1="54.24" x2="495.05" y2="54.24" stroke="#a8a850" stroke-width="0.9" />
<line x1="488.65" y1="68.34" x2="495.05" y2="68.34" stroke="#a8a850" stroke-width="0.9" />
<line x1="520.35" y1="55.02" x2="520.35" y2="62.07" stroke="#a8a850" stroke-width="0.9" />
<line x1="517.15" y1="55.02" x2="523.55" y2="55.02" stroke="#a8a850" stroke-width="0.9" />
<line x1="517.15" y1="62.07" x2="523.55" y2="62.07" stroke="#a8a850" stroke-width="0.9" />
<line x1="548.85" y1="55.8" x2="548.85" y2="62.07" stroke="#a8a850" stroke-width="0.9" />
<line x1="545.65" y1="55.8" x2="552.05" y2="55.8" stroke="#a8a850" stroke-width="0.9" />
<line x1="545.65" y1="62.07" x2="552.05" y2="62.07" stroke="#a8a850" stroke-width="0.9" />
<line x1="577.35" y1="116.9" x2="577.35" y2="127.87" stroke="#a8a850" stroke-width="0.9" />
<line x1="574.15" y1="116.9" x2="580.55" y2="116.9" stroke="#a8a850" stroke-width="0.9" />
<line x1="574.15" y1="127.87" x2="580.55" y2="127.87" stroke="#a8a850" stroke-width="0.9" />
<line x1="605.85" y1="113.77" x2="605.85" y2="124.73" stroke="#a8a850" stroke-width="0.9" />
<line x1="602.65" y1="113.77" x2="609.05" y2="113.77" stroke="#a8a850" stroke-width="0.9" />
<line x1="602.65" y1="124.73" x2="609.05" y2="124.73" stroke="#a8a850" stroke-width="0.9" />
<line x1="634.35" y1="109.85" x2="634.35" y2="127.87" stroke="#a8a850" stroke-width="0.9" />
<line x1="631.15" y1="109.85" x2="637.55" y2="109.85" stroke="#a8a850" stroke-width="0.9" />
<line x1="631.15" y1="127.87" x2="637.55" y2="127.87" stroke="#a8a850" stroke-width="0.9" />
<line x1="662.85" y1="114.55" x2="662.85" y2="129.43" stroke="#a8a850" stroke-width="0.9" />
<line x1="659.65" y1="114.55" x2="666.05" y2="114.55" stroke="#a8a850" stroke-width="0.9" />
<line x1="659.65" y1="129.43" x2="666.05" y2="129.43" stroke="#a8a850" stroke-width="0.9" />
<line x1="463.35" y1="30.74" x2="463.35" y2="63.64" stroke="#6a2d84" stroke-width="0.9" />
<line x1="460.15" y1="30.74" x2="466.55" y2="30.74" stroke="#6a2d84" stroke-width="0.9" />
<line x1="460.15" y1="63.64" x2="466.55" y2="63.64" stroke="#6a2d84" stroke-width="0.9" />
<line x1="491.85" y1="22.9" x2="491.85" y2="62.07" stroke="#6a2d84" stroke-width="0.9" />
<line x1="488.65" y1="22.9" x2="495.05" y2="22.9" stroke="#6a2d84" stroke-width="0.9" />
<line x1="488.65" y1="62.07" x2="495.05" y2="62.07" stroke="#6a2d84" stroke-width="0.9" />
<line x1="520.35" y1="21.34" x2="520.35" y2="56.59" stroke="#6a2d84" stroke-width="0.9" />
<line x1="517.15" y1="21.34" x2="523.55" y2="21.34" stroke="#6a2d84" stroke-width="0.9" />
<line x1="517.15" y1="56.59" x2="523.55" y2="56.59" stroke="#6a2d84" stroke-width="0.9" />
<line x1="548.85" y1="30.74" x2="548.85" y2="60.5" stroke="#6a2d84" stroke-width="0.9" />
<line x1="545.65" y1="30.74" x2="552.05" y2="30.74" stroke="#6a2d84" stroke-width="0.9" />
<line x1="545.65" y1="60.5" x2="552.05" y2="60.5" stroke="#6a2d84" stroke-width="0.9" />
<line x1="577.35" y1="76.17" x2="577.35" y2="99.67" stroke="#6a2d84" stroke-width="0.9" />
<line x1="574.15" y1="76.17" x2="580.55" y2="76.17" stroke="#6a2d84" stroke-width="0.9" />
<line x1="574.15" y1="99.67" x2="580.55" y2="99.67" stroke="#6a2d84" stroke-width="0.9" />
<line x1="605.85" y1="124.73" x2="605.85" y2="129.43" stroke="#6a2d84" stroke-width="0.9" />
<line x1="602.65" y1="124.73" x2="609.05" y2="124.73" stroke="#6a2d84" stroke-width="0.9" />
<line x1="602.65" y1="129.43" x2="609.05" y2="129.43" stroke="#6a2d84" stroke-width="0.9" />
<line x1="634.35" y1="126.3" x2="634.35" y2="129.43" stroke="#6a2d84" stroke-width="0.9" />
<line x1="631.15" y1="126.3" x2="637.55" y2="126.3" stroke="#6a2d84" stroke-width="0.9" />
<line x1="631.15" y1="129.43" x2="637.55" y2="129.43" stroke="#6a2d84" stroke-width="0.9" />
<line x1="662.85" y1="128.65" x2="662.85" y2="131" stroke="#6a2d84" stroke-width="0.9" />
<line x1="659.65" y1="128.65" x2="666.05" y2="128.65" stroke="#6a2d84" stroke-width="0.9" />
<line x1="659.65" y1="131" x2="666.05" y2="131" stroke="#6a2d84" stroke-width="0.9" />
<line x1="463.35" y1="34.65" x2="463.35" y2="69.9" stroke="#3f8a45" stroke-width="0.9" />
<line x1="460.15" y1="34.65" x2="466.55" y2="34.65" stroke="#3f8a45" stroke-width="0.9" />
<line x1="460.15" y1="69.9" x2="466.55" y2="69.9" stroke="#3f8a45" stroke-width="0.9" />
<line x1="491.85" y1="30.74" x2="491.85" y2="96.53" stroke="#3f8a45" stroke-width="0.9" />
<line x1="488.65" y1="30.74" x2="495.05" y2="30.74" stroke="#3f8a45" stroke-width="0.9" />
<line x1="488.65" y1="96.53" x2="495.05" y2="96.53" stroke="#3f8a45" stroke-width="0.9" />
<line x1="520.35" y1="44.84" x2="520.35" y2="83.22" stroke="#3f8a45" stroke-width="0.9" />
<line x1="517.15" y1="44.84" x2="523.55" y2="44.84" stroke="#3f8a45" stroke-width="0.9" />
<line x1="517.15" y1="83.22" x2="523.55" y2="83.22" stroke="#3f8a45" stroke-width="0.9" />
<line x1="548.85" y1="70.69" x2="548.85" y2="121.6" stroke="#3f8a45" stroke-width="0.9" />
<line x1="545.65" y1="70.69" x2="552.05" y2="70.69" stroke="#3f8a45" stroke-width="0.9" />
<line x1="545.65" y1="121.6" x2="552.05" y2="121.6" stroke="#3f8a45" stroke-width="0.9" />
<line x1="577.35" y1="113.77" x2="577.35" y2="124.73" stroke="#3f8a45" stroke-width="0.9" />
<line x1="574.15" y1="113.77" x2="580.55" y2="113.77" stroke="#3f8a45" stroke-width="0.9" />
<line x1="574.15" y1="124.73" x2="580.55" y2="124.73" stroke="#3f8a45" stroke-width="0.9" />
<line x1="605.85" y1="125.52" x2="605.85" y2="130.22" stroke="#3f8a45" stroke-width="0.9" />
<line x1="602.65" y1="125.52" x2="609.05" y2="125.52" stroke="#3f8a45" stroke-width="0.9" />
<line x1="602.65" y1="130.22" x2="609.05" y2="130.22" stroke="#3f8a45" stroke-width="0.9" />
<line x1="634.35" y1="126.3" x2="634.35" y2="129.43" stroke="#3f8a45" stroke-width="0.9" />
<line x1="631.15" y1="126.3" x2="637.55" y2="126.3" stroke="#3f8a45" stroke-width="0.9" />
<line x1="631.15" y1="129.43" x2="637.55" y2="129.43" stroke="#3f8a45" stroke-width="0.9" />
<line x1="662.85" y1="129.43" x2="662.85" y2="131" stroke="#3f8a45" stroke-width="0.9" />
<line x1="659.65" y1="129.43" x2="666.05" y2="129.43" stroke="#3f8a45" stroke-width="0.9" />
<line x1="659.65" y1="131" x2="666.05" y2="131" stroke="#3f8a45" stroke-width="0.9" />
<polyline points="463.35,55.4 464.35,55.43 465.34,55.45 466.34,55.48 467.34,55.51 468.34,55.54 469.33,55.58 470.33,55.61 471.33,55.65 472.33,55.69 473.32,55.73 474.32,55.78 475.32,55.83 476.32,55.88 477.31,55.94 478.31,55.99 479.31,56.06 480.31,56.12 481.3,56.19 482.3,56.27 483.3,56.35 484.3,56.43 485.29,56.52 486.29,56.62 487.29,56.72 488.29,56.83 489.28,56.94 490.28,57.07 491.28,57.2 492.28,57.33 493.27,57.48 494.27,57.63 495.27,57.8 496.27,57.97 497.26,58.16 498.26,58.35 499.26,58.56 500.26,58.78 501.25,59.01 502.25,59.26 503.25,59.52 504.25,59.79 505.24,60.08 506.24,60.39 507.24,60.71 508.24,61.05 509.23,61.41 510.23,61.79 511.23,62.19 512.23,62.61 513.22,63.05 514.22,63.52 515.22,64.01 516.22,64.52 517.21,65.06 518.21,65.62 519.21,66.21 520.21,66.83 521.2,67.47 522.2,68.14 523.2,68.84 524.2,69.57 525.19,70.33 526.19,71.12 527.19,71.94 528.19,72.78 529.18,73.66 530.18,74.56 531.18,75.5 532.18,76.46 533.17,77.44 534.17,78.46 535.17,79.5 536.17,80.56 537.16,81.65 538.16,82.76 539.16,83.88 540.16,85.03 541.15,86.19 542.15,87.36 543.15,88.55 544.15,89.74 545.14,90.95 546.14,92.15 547.14,93.36 548.14,94.57 549.13,95.78 550.13,96.98 551.13,98.18 552.13,99.37 553.12,100.54 554.12,101.7 555.12,102.85 556.12,103.98 557.11,105.09 558.11,106.17 559.11,107.24 560.11,108.28 561.1,109.3 562.1,110.28 563.1,111.25 564.1,112.18 565.09,113.09 566.09,113.97 567.09,114.81 568.09,115.63 569.08,116.42 570.08,117.18 571.08,117.91 572.08,118.62 573.07,119.29 574.07,119.94 575.07,120.55 576.07,121.15 577.06,121.71 578.06,122.25 579.06,122.76 580.06,123.25 581.05,123.72 582.05,124.17 583.05,124.59 584.05,124.99 585.04,125.37 586.04,125.73 587.04,126.07 588.04,126.4 589.03,126.7 590.03,127 591.03,127.27 592.03,127.53 593.02,127.78 594.02,128.01 595.02,128.23 596.02,128.44 597.01,128.63 598.01,128.82 599.01,128.99 600.01,129.16 601,129.31 602,129.46 603,129.6 604,129.73 604.99,129.85 605.99,129.97 606.99,130.07 607.99,130.18 608.98,130.27 609.98,130.36 610.98,130.45 611.98,130.53 612.97,130.6 613.97,130.68 614.97,130.74 615.97,130.81 616.96,130.86 617.96,130.92 618.96,130.97 619.96,131.02 620.95,131.07 621.95,131.11 622.95,131.15 623.95,131.19 624.94,131.23 625.94,131.26 626.94,131.29 627.94,131.32 628.93,131.35 629.93,131.38 630.93,131.4 631.93,131.42 632.92,131.45 633.92,131.47 634.92,131.49 635.92,131.5 636.91,131.52 637.91,131.54 638.91,131.55 639.91,131.57 640.9,131.58 641.9,131.59 642.9,131.6 643.9,131.61 644.89,131.62 645.89,131.63 646.89,131.64 647.89,131.65 648.88,131.66 649.88,131.67 650.88,131.67 651.88,131.68 652.87,131.69 653.87,131.69 654.87,131.7 655.87,131.7 656.86,131.71 657.86,131.71 658.86,131.72 659.86,131.72 660.85,131.73 661.85,131.73 662.85,131.73" fill="none" stroke="#2f7f34" stroke-width="1.2"/>
<polyline points="463.35,60.11 464.35,60.11 465.34,60.11 466.34,60.11 467.34,60.11 468.34,60.11 469.33,60.11 470.33,60.11 471.33,60.11 472.33,60.11 473.32,60.11 474.32,60.11 475.32,60.11 476.32,60.11 477.31,60.11 478.31,60.11 479.31,60.11 480.31,60.11 481.3,60.11 482.3,60.11 483.3,60.11 484.3,60.11 485.29,60.11 486.29,60.11 487.29,60.11 488.29,60.11 489.28,60.11 490.28,60.11 491.28,60.11 492.28,60.11 493.27,60.11 494.27,60.11 495.27,60.11 496.27,60.11 497.26,60.11 498.26,60.11 499.26,60.11 500.26,60.11 501.25,60.11 502.25,60.11 503.25,60.11 504.25,60.11 505.24,60.11 506.24,60.11 507.24,60.11 508.24,60.11 509.23,60.11 510.23,60.11 511.23,60.11 512.23,60.11 513.22,60.11 514.22,60.11 515.22,60.11 516.22,60.11 517.21,60.11 518.21,60.11 519.21,60.11 520.21,60.11 521.2,60.11 522.2,60.11 523.2,60.11 524.2,60.11 525.19,60.11 526.19,60.11 527.19,60.11 528.19,60.11 529.18,60.11 530.18,60.11 531.18,60.11 532.18,60.11 533.17,60.11 534.17,60.11 535.17,60.11 536.17,60.11 537.16,60.11 538.16,60.11 539.16,60.11 540.16,60.11 541.15,60.11 542.15,60.11 543.15,60.11 544.15,60.11 545.14,60.11 546.14,60.11 547.14,60.11 548.14,60.11 549.13,60.11 550.13,60.11 551.13,60.12 552.13,60.12 553.12,60.12 554.12,60.13 555.12,60.14 556.12,60.17 557.11,60.21 558.11,60.27 559.11,60.39 560.11,60.58 561.1,60.9 562.1,61.45 563.1,62.36 564.1,63.86 565.09,66.26 566.09,69.96 567.09,75.34 568.09,82.51 569.08,91.05 570.08,99.96 571.08,108.06 572.08,114.55 573.07,119.24 574.07,122.39 575.07,124.4 576.07,125.64 577.06,126.38 578.06,126.83 579.06,127.1 580.06,127.25 581.05,127.34 582.05,127.4 583.05,127.43 584.05,127.45 585.04,127.46 586.04,127.47 587.04,127.47 588.04,127.47 589.03,127.47 590.03,127.47 591.03,127.47 592.03,127.47 593.02,127.47 594.02,127.48 595.02,127.48 596.02,127.48 597.01,127.48 598.01,127.48 599.01,127.48 600.01,127.48 601,127.48 602,127.48 603,127.48 604,127.48 604.99,127.48 605.99,127.48 606.99,127.48 607.99,127.48 608.98,127.48 609.98,127.48 610.98,127.48 611.98,127.48 612.97,127.48 613.97,127.48 614.97,127.48 615.97,127.48 616.96,127.48 617.96,127.48 618.96,127.48 619.96,127.48 620.95,127.48 621.95,127.48 622.95,127.48 623.95,127.48 624.94,127.48 625.94,127.48 626.94,127.48 627.94,127.48 628.93,127.48 629.93,127.48 630.93,127.48 631.93,127.48 632.92,127.48 633.92,127.48 634.92,127.48 635.92,127.48 636.91,127.48 637.91,127.48 638.91,127.48 639.91,127.48 640.9,127.48 641.9,127.48 642.9,127.48 643.9,127.48 644.89,127.48 645.89,127.48 646.89,127.48 647.89,127.48 648.88,127.48 649.88,127.48 650.88,127.48 651.88,127.48 652.87,127.48 653.87,127.48 654.87,127.48 655.87,127.48 656.86,127.48 657.86,127.48 658.86,127.48 659.86,127.48 660.85,127.48 661.85,127.48 662.85,127.48" fill="none" stroke="#a0a030" stroke-width="1.2"/>
<polyline points="463.35,42.49 464.35,42.49 465.34,42.49 466.34,42.49 467.34,42.49 468.34,42.49 469.33,42.49 470.33,42.49 471.33,42.49 472.33,42.49 473.32,42.49 474.32,42.49 475.32,42.49 476.32,42.49 477.31,42.49 478.31,42.49 479.31,42.49 480.31,42.49 481.3,42.49 482.3,42.49 483.3,42.49 484.3,42.49 485.29,42.49 486.29,42.49 487.29,42.49 488.29,42.49 489.28,42.49 490.28,42.49 491.28,42.49 492.28,42.49 493.27,42.49 494.27,42.49 495.27,42.49 496.27,42.49 497.26,42.49 498.26,42.49 499.26,42.49 500.26,42.49 501.25,42.49 502.25,42.49 503.25,42.49 504.25,42.5 505.24,42.5 506.24,42.5 507.24,42.5 508.24,42.5 509.23,42.5 510.23,42.5 511.23,42.51 512.23,42.51 513.22,42.51 514.22,42.52 515.22,42.52 516.22,42.52 517.21,42.53 518.21,42.53 519.21,42.54 520.21,42.55 521.2,42.56 522.2,42.57 523.2,42.58 524.2,42.59 525.19,42.6 526.19,42.62 527.19,42.63 528.19,42.65 529.18,42.68 530.18,42.7 531.18,42.73 532.18,42.76 533.17,42.8 534.17,42.84 535.17,42.89 536.17,42.95 537.16,43.01 538.16,43.08 539.16,43.15 540.16,43.24 541.15,43.34 542.15,43.46 543.15,43.59 544.15,43.73 545.14,43.9 546.14,44.08 547.14,44.29 548.14,44.53 549.13,44.8 550.13,45.1 551.13,45.44 552.13,45.82 553.12,46.25 554.12,46.73 555.12,47.27 556.12,47.88 557.11,48.55 558.11,49.3 559.11,50.14 560.11,51.07 561.1,52.09 562.1,53.23 563.1,54.47 564.1,55.84 565.09,57.33 566.09,58.95 567.09,60.71 568.09,62.59 569.08,64.62 570.08,66.77 571.08,69.04 572.08,71.44 573.07,73.93 574.07,76.52 575.07,79.18 576.07,81.9 577.06,84.65 578.06,87.42 579.06,90.18 580.06,92.9 581.05,95.58 582.05,98.19 583.05,100.71 584.05,103.12 585.04,105.43 586.04,107.61 587.04,109.66 588.04,111.58 589.03,113.36 590.03,115.01 591.03,116.54 592.03,117.93 593.02,119.2 594.02,120.36 595.02,121.41 596.02,122.36 597.01,123.22 598.01,123.99 599.01,124.68 600.01,125.3 601,125.85 602,126.35 603,126.79 604,127.18 604.99,127.53 605.99,127.84 606.99,128.11 607.99,128.36 608.98,128.57 609.98,128.77 610.98,128.94 611.98,129.09 612.97,129.22 613.97,129.34 614.97,129.44 615.97,129.53 616.96,129.61 617.96,129.68 618.96,129.75 619.96,129.8 620.95,129.85 621.95,129.89 622.95,129.93 623.95,129.97 624.94,129.99 625.94,130.02 626.94,130.04 627.94,130.06 628.93,130.08 629.93,130.1 630.93,130.11 631.93,130.12 632.92,130.14 633.92,130.15 634.92,130.15 635.92,130.16 636.91,130.17 637.91,130.17 638.91,130.18 639.91,130.18 640.9,130.19 641.9,130.19 642.9,130.19 643.9,130.2 644.89,130.2 645.89,130.2 646.89,130.2 647.89,130.2 648.88,130.21 649.88,130.21 650.88,130.21 651.88,130.21 652.87,130.21 653.87,130.21 654.87,130.21 655.87,130.21 656.86,130.21 657.86,130.21 658.86,130.21 659.86,130.21 660.85,130.21 661.85,130.21 662.85,130.21" fill="none" stroke="#5c1f78" stroke-width="1.2"/>
<rect x="460.15" y="60.44" width="6.4" height="6.4" fill="#7f7f00" />
<rect x="488.65" y="58.87" width="6.4" height="6.4" fill="#7f7f00" />
<rect x="517.15" y="54.95" width="6.4" height="6.4" fill="#7f7f00" />
<rect x="545.65" y="54.95" width="6.4" height="6.4" fill="#7f7f00" />
<rect x="574.15" y="119.18" width="6.4" height="6.4" fill="#7f7f00" />
<rect x="602.65" y="118.79" width="6.4" height="6.4" fill="#7f7f00" />
<rect x="631.15" y="118.4" width="6.4" height="6.4" fill="#7f7f00" />
<rect x="659.65" y="120.75" width="6.4" height="6.4" fill="#7f7f00" />
<polygon points="463.35,43.39 459.95,49.79 466.75,49.79" fill="#48085f"/>
<polygon points="491.85,39.47 488.45,45.87 495.25,45.87" fill="#48085f"/>
<polygon points="520.35,35.55 516.95,41.95 523.75,41.95" fill="#48085f"/>
<polygon points="548.85,41.82 545.45,48.22 552.25,48.22" fill="#48085f"/>
<polygon points="577.35,84.9 573.95,91.3 580.75,91.3" fill="#48085f"/>
<polygon points="605.85,123.28 602.45,129.68 609.25,129.68" fill="#48085f"/>
<polygon points="634.35,124.07 630.95,130.47 637.75,130.47" fill="#48085f"/>
<polygon points="662.85,126.42 659.45,132.82 666.25,132.82" fill="#48085f"/>
<circle cx="463.35" cy="51.1" r="3.2" fill="#086316"/>
<circle cx="491.85" cy="62.85" r="3.2" fill="#086316"/>
<circle cx="520.35" cy="59.72" r="3.2" fill="#086316"/>
<circle cx="548.85" cy="95.75" r="3.2" fill="#086316"/>
<circle cx="577.35" cy="120.03" r="3.2" fill="#086316"/>
<circle cx="605.85" cy="127.87" r="3.2" fill="#086316"/>
<circle cx="634.35" cy="127.87" r="3.2" fill="#086316"/>
<circle cx="662.85" cy="130.22" r="3.2" fill="#086316"/>
<line x1="601.8" y1="22" x2="617.7" y2="22" stroke="#3f8a45" stroke-width="1.2" />
<circle cx="609.7" cy="22" r="3.1" fill="#086316"/>
<text x="626" y="25.6" font-size="10" font-weight="normal" text-anchor="start" fill="#000" textLength="43.3" lengthAdjust="spacingAndGlyphs" >CN-861-2</text>
<line x1="601.8" y1="38.8" x2="617.7" y2="38.8" stroke="#a8a850" stroke-width="1.2" />
<rect x="606.6" y="35.7" width="6.4" height="6.2" fill="#7f7f00" />
<text x="626" y="42.4" font-size="10" font-weight="normal" text-anchor="start" fill="#000" textLength="53" lengthAdjust="spacingAndGlyphs" >CN-DM-861</text>
<line x1="601.8" y1="55.6" x2="617.7" y2="55.6" stroke="#6a2d84" stroke-width="1.2" />
<polygon points="609.7,52.4 606.4,58.6 613,58.6" fill="#48085f"/>
<text x="626" y="59.2" font-size="10" font-weight="normal" text-anchor="start" fill="#000" textLength="45" lengthAdjust="spacingAndGlyphs" >Cysto-180</text>
<line x1="69.3" y1="450.2" x2="69.3" y2="610" stroke="#000" stroke-width="2" />
<line x1="62.8" y1="450.61" x2="69.3" y2="450.61" stroke="#000" stroke-width="2" />
<text x="61.6" y="454" font-size="10" font-weight="bold" text-anchor="end" fill="#000" >150</text>
<line x1="62.8" y1="503.47" x2="69.3" y2="503.47" stroke="#000" stroke-width="2" />
<text x="61.6" y="506.87" font-size="10" font-weight="bold" text-anchor="end" fill="#000" >100</text>
<line x1="62.8" y1="556.34" x2="69.3" y2="556.34" stroke="#000" stroke-width="2" />
<text x="61.6" y="559.74" font-size="10" font-weight="bold" text-anchor="end" fill="#000" >50</text>
<line x1="62.8" y1="609.2" x2="69.3" y2="609.2" stroke="#000" stroke-width="2" />
<text x="61.6" y="612.6" font-size="10" font-weight="bold" text-anchor="end" fill="#000" >0</text>
<line x1="68.3" y1="609.2" x2="300.6" y2="609.2" stroke="#000" stroke-width="2" />
<line x1="69.3" y1="609.2" x2="69.3" y2="613.2" stroke="#000" stroke-width="1.4" />
<line x1="84.65" y1="609.2" x2="84.65" y2="613.2" stroke="#000" stroke-width="1.4" />
<line x1="100" y1="609.2" x2="100" y2="613.2" stroke="#000" stroke-width="1.4" />
<line x1="115.35" y1="609.2" x2="115.35" y2="613.2" stroke="#000" stroke-width="1.4" />
<line x1="130.7" y1="609.2" x2="130.7" y2="613.2" stroke="#000" stroke-width="1.4" />
<line x1="146.05" y1="609.2" x2="146.05" y2="613.2" stroke="#000" stroke-width="1.4" />
<line x1="161.4" y1="609.2" x2="161.4" y2="613.2" stroke="#000" stroke-width="1.4" />
<line x1="176.75" y1="609.2" x2="176.75" y2="613.2" stroke="#000" stroke-width="1.4" />
<line x1="192.1" y1="609.2" x2="192.1" y2="613.2" stroke="#000" stroke-width="1.4" />
<line x1="207.45" y1="609.2" x2="207.45" y2="613.2" stroke="#000" stroke-width="1.4" />
<line x1="222.8" y1="609.2" x2="222.8" y2="613.2" stroke="#000" stroke-width="1.4" />
<line x1="238.15" y1="609.2" x2="238.15" y2="613.2" stroke="#000" stroke-width="1.4" />
<line x1="253.5" y1="609.2" x2="253.5" y2="613.2" stroke="#000" stroke-width="1.4" />
<line x1="268.85" y1="609.2" x2="268.85" y2="613.2" stroke="#000" stroke-width="1.4" />
<line x1="284.2" y1="609.2" x2="284.2" y2="613.2" stroke="#000" stroke-width="1.4" />
<line x1="299.55" y1="609.2" x2="299.55" y2="613.2" stroke="#000" stroke-width="1.4" />
<line x1="69.3" y1="609.2" x2="69.3" y2="616" stroke="#000" stroke-width="2" />
<text x="69.3" y="627.4" font-size="10" font-weight="bold" text-anchor="middle" fill="#000" >0</text>
<line x1="146.05" y1="609.2" x2="146.05" y2="616" stroke="#000" stroke-width="2" />
<text x="146.05" y="627.4" font-size="10" font-weight="bold" text-anchor="middle" fill="#000" >20</text>
<line x1="222.8" y1="609.2" x2="222.8" y2="616" stroke="#000" stroke-width="2" />
<text x="222.8" y="627.4" font-size="10" font-weight="bold" text-anchor="middle" fill="#000" >40</text>
<line x1="299.55" y1="609.2" x2="299.55" y2="616" stroke="#000" stroke-width="2" />
<text x="299.55" y="627.4" font-size="10" font-weight="bold" text-anchor="middle" fill="#000" >60</text>
<text x="159.3" y="643.1" font-size="10" font-weight="bold" text-anchor="start" fill="#000" textLength="50.3" lengthAdjust="spacingAndGlyphs" >Time [min]</text>
<text x="26.9" y="530.7" font-size="10" font-weight="bold" text-anchor="middle" fill="#000" textLength="23.3" lengthAdjust="spacingAndGlyphs" transform="rotate(-90 26.9 530.7)">OCR</text>
<text x="37.6" y="530.4" font-size="10" font-weight="bold" text-anchor="middle" fill="#000" textLength="120.8" lengthAdjust="spacingAndGlyphs" transform="rotate(-90 37.6 530.4)">[% normalized to control]</text>
<line x1="126.5" y1="451" x2="126.5" y2="609" stroke="#000" stroke-width="0.9" stroke-dasharray="2,1.3"/>
<line x1="201.5" y1="451.5" x2="201.5" y2="609" stroke="#000" stroke-width="0.9" stroke-dasharray="2,1.3"/>
<text x="101.6" y="443.9" font-size="10" font-weight="normal" text-anchor="start" fill="#000" textLength="49.8" lengthAdjust="spacingAndGlyphs" >Oligomycin</text>
<text x="187.3" y="443.6" font-size="10" font-weight="normal" text-anchor="start" fill="#000" textLength="28.1" lengthAdjust="spacingAndGlyphs" >FCCP</text>
<line x1="73.5" y1="539.95" x2="73.5" y2="553.69" stroke="#a5a32a" stroke-width="0.9" />
<line x1="71.7" y1="539.95" x2="75.3" y2="539.95" stroke="#a5a32a" stroke-width="0.9" />
<line x1="71.7" y1="553.69" x2="75.3" y2="553.69" stroke="#a5a32a" stroke-width="0.9" />
<line x1="99" y1="542.06" x2="99" y2="555.81" stroke="#a5a32a" stroke-width="0.9" />
<line x1="97.2" y1="542.06" x2="100.8" y2="542.06" stroke="#a5a32a" stroke-width="0.9" />
<line x1="97.2" y1="555.81" x2="100.8" y2="555.81" stroke="#a5a32a" stroke-width="0.9" />
<line x1="123.9" y1="544.18" x2="123.9" y2="557.92" stroke="#a5a32a" stroke-width="0.9" />
<line x1="122.1" y1="544.18" x2="125.7" y2="544.18" stroke="#a5a32a" stroke-width="0.9" />
<line x1="122.1" y1="557.92" x2="125.7" y2="557.92" stroke="#a5a32a" stroke-width="0.9" />
<line x1="148.7" y1="576.53" x2="148.7" y2="587.53" stroke="#a5a32a" stroke-width="0.9" />
<line x1="146.9" y1="576.53" x2="150.5" y2="576.53" stroke="#a5a32a" stroke-width="0.9" />
<line x1="146.9" y1="587.53" x2="150.5" y2="587.53" stroke="#a5a32a" stroke-width="0.9" />
<line x1="173.5" y1="574.1" x2="173.5" y2="585.09" stroke="#a5a32a" stroke-width="0.9" />
<line x1="171.7" y1="574.1" x2="175.3" y2="574.1" stroke="#a5a32a" stroke-width="0.9" />
<line x1="171.7" y1="585.09" x2="175.3" y2="585.09" stroke="#a5a32a" stroke-width="0.9" />
<line x1="198.3" y1="568.81" x2="198.3" y2="579.81" stroke="#a5a32a" stroke-width="0.9" />
<line x1="196.5" y1="568.81" x2="200.1" y2="568.81" stroke="#a5a32a" stroke-width="0.9" />
<line x1="196.5" y1="579.81" x2="200.1" y2="579.81" stroke="#a5a32a" stroke-width="0.9" />
<line x1="223.1" y1="496.17" x2="223.1" y2="518.17" stroke="#a5a32a" stroke-width="0.9" />
<line x1="221.3" y1="496.17" x2="224.9" y2="496.17" stroke="#a5a32a" stroke-width="0.9" />
<line x1="221.3" y1="518.17" x2="224.9" y2="518.17" stroke="#a5a32a" stroke-width="0.9" />
<line x1="248" y1="503.52" x2="248" y2="535.14" stroke="#a5a32a" stroke-width="0.9" />
<line x1="246.2" y1="503.52" x2="249.8" y2="503.52" stroke="#a5a32a" stroke-width="0.9" />
<line x1="246.2" y1="535.14" x2="249.8" y2="535.14" stroke="#a5a32a" stroke-width="0.9" />
<line x1="272.8" y1="509.5" x2="272.8" y2="539.74" stroke="#a5a32a" stroke-width="0.9" />
<line x1="271" y1="509.5" x2="274.6" y2="509.5" stroke="#a5a32a" stroke-width="0.9" />
<line x1="271" y1="539.74" x2="274.6" y2="539.74" stroke="#a5a32a" stroke-width="0.9" />
<line x1="73.5" y1="535.29" x2="73.5" y2="549.04" stroke="#7d2a8e" stroke-width="0.9" />
<line x1="71.7" y1="535.29" x2="75.3" y2="535.29" stroke="#7d2a8e" stroke-width="0.9" />
<line x1="71.7" y1="549.04" x2="75.3" y2="549.04" stroke="#7d2a8e" stroke-width="0.9" />
<line x1="99" y1="540.69" x2="99" y2="554.43" stroke="#7d2a8e" stroke-width="0.9" />
<line x1="97.2" y1="540.69" x2="100.8" y2="540.69" stroke="#7d2a8e" stroke-width="0.9" />
<line x1="97.2" y1="554.43" x2="100.8" y2="554.43" stroke="#7d2a8e" stroke-width="0.9" />
<line x1="123.9" y1="543.01" x2="123.9" y2="556.76" stroke="#7d2a8e" stroke-width="0.9" />
<line x1="122.1" y1="543.01" x2="125.7" y2="543.01" stroke="#7d2a8e" stroke-width="0.9" />
<line x1="122.1" y1="556.76" x2="125.7" y2="556.76" stroke="#7d2a8e" stroke-width="0.9" />
<line x1="148.7" y1="577.48" x2="148.7" y2="588.48" stroke="#7d2a8e" stroke-width="0.9" />
<line x1="146.9" y1="577.48" x2="150.5" y2="577.48" stroke="#7d2a8e" stroke-width="0.9" />
<line x1="146.9" y1="588.48" x2="150.5" y2="588.48" stroke="#7d2a8e" stroke-width="0.9" />
<line x1="173.5" y1="575.15" x2="173.5" y2="586.15" stroke="#7d2a8e" stroke-width="0.9" />
<line x1="171.7" y1="575.15" x2="175.3" y2="575.15" stroke="#7d2a8e" stroke-width="0.9" />
<line x1="171.7" y1="586.15" x2="175.3" y2="586.15" stroke="#7d2a8e" stroke-width="0.9" />
<line x1="198.3" y1="569.87" x2="198.3" y2="580.86" stroke="#7d2a8e" stroke-width="0.9" />
<line x1="196.5" y1="569.87" x2="200.1" y2="569.87" stroke="#7d2a8e" stroke-width="0.9" />
<line x1="196.5" y1="580.86" x2="200.1" y2="580.86" stroke="#7d2a8e" stroke-width="0.9" />
<line x1="223.1" y1="494.06" x2="223.1" y2="516.05" stroke="#7d2a8e" stroke-width="0.9" />
<line x1="221.3" y1="494.06" x2="224.9" y2="494.06" stroke="#7d2a8e" stroke-width="0.9" />
<line x1="221.3" y1="516.05" x2="224.9" y2="516.05" stroke="#7d2a8e" stroke-width="0.9" />
<line x1="248" y1="500.88" x2="248" y2="532.49" stroke="#7d2a8e" stroke-width="0.9" />
<line x1="246.2" y1="500.88" x2="249.8" y2="500.88" stroke="#7d2a8e" stroke-width="0.9" />
<line x1="246.2" y1="532.49" x2="249.8" y2="532.49" stroke="#7d2a8e" stroke-width="0.9" />
<line x1="272.8" y1="506.85" x2="272.8" y2="537.09" stroke="#7d2a8e" stroke-width="0.9" />
<line x1="271" y1="506.85" x2="274.6" y2="506.85" stroke="#7d2a8e" stroke-width="0.9" />
<line x1="271" y1="537.09" x2="274.6" y2="537.09" stroke="#7d2a8e" stroke-width="0.9" />
<line x1="73.5" y1="537.2" x2="73.5" y2="553.06" stroke="#1f7d25" stroke-width="0.9" />
<line x1="71.7" y1="537.2" x2="75.3" y2="537.2" stroke="#1f7d25" stroke-width="0.9" />
<line x1="71.7" y1="553.06" x2="75.3" y2="553.06" stroke="#1f7d25" stroke-width="0.9" />
<line x1="99" y1="540.69" x2="99" y2="556.55" stroke="#1f7d25" stroke-width="0.9" />
<line x1="97.2" y1="540.69" x2="100.8" y2="540.69" stroke="#1f7d25" stroke-width="0.9" />
<line x1="97.2" y1="556.55" x2="100.8" y2="556.55" stroke="#1f7d25" stroke-width="0.9" />
<line x1="123.9" y1="542.38" x2="123.9" y2="558.24" stroke="#1f7d25" stroke-width="0.9" />
<line x1="122.1" y1="542.38" x2="125.7" y2="542.38" stroke="#1f7d25" stroke-width="0.9" />
<line x1="122.1" y1="558.24" x2="125.7" y2="558.24" stroke="#1f7d25" stroke-width="0.9" />
<line x1="148.7" y1="574.84" x2="148.7" y2="587.53" stroke="#1f7d25" stroke-width="0.9" />
<line x1="146.9" y1="574.84" x2="150.5" y2="574.84" stroke="#1f7d25" stroke-width="0.9" />
<line x1="146.9" y1="587.53" x2="150.5" y2="587.53" stroke="#1f7d25" stroke-width="0.9" />
<line x1="173.5" y1="572.19" x2="173.5" y2="584.88" stroke="#1f7d25" stroke-width="0.9" />
<line x1="171.7" y1="572.19" x2="175.3" y2="572.19" stroke="#1f7d25" stroke-width="0.9" />
<line x1="171.7" y1="584.88" x2="175.3" y2="584.88" stroke="#1f7d25" stroke-width="0.9" />
<line x1="198.3" y1="566.7" x2="198.3" y2="579.38" stroke="#1f7d25" stroke-width="0.9" />
<line x1="196.5" y1="566.7" x2="200.1" y2="566.7" stroke="#1f7d25" stroke-width="0.9" />
<line x1="196.5" y1="579.38" x2="200.1" y2="579.38" stroke="#1f7d25" stroke-width="0.9" />
<line x1="223.1" y1="496.07" x2="223.1" y2="521.44" stroke="#1f7d25" stroke-width="0.9" />
<line x1="221.3" y1="496.07" x2="224.9" y2="496.07" stroke="#1f7d25" stroke-width="0.9" />
<line x1="221.3" y1="521.44" x2="224.9" y2="521.44" stroke="#1f7d25" stroke-width="0.9" />
<line x1="248" y1="502.15" x2="248" y2="538.63" stroke="#1f7d25" stroke-width="0.9" />
<line x1="246.2" y1="502.15" x2="249.8" y2="502.15" stroke="#1f7d25" stroke-width="0.9" />
<line x1="246.2" y1="538.63" x2="249.8" y2="538.63" stroke="#1f7d25" stroke-width="0.9" />
<line x1="272.8" y1="506.54" x2="272.8" y2="541.43" stroke="#1f7d25" stroke-width="0.9" />
<line x1="271" y1="506.54" x2="274.6" y2="506.54" stroke="#1f7d25" stroke-width="0.9" />
<line x1="271" y1="541.43" x2="274.6" y2="541.43" stroke="#1f7d25" stroke-width="0.9" />
<line x1="73.5" y1="544.49" x2="73.5" y2="556.12" stroke="#b07a35" stroke-width="0.9" />
<line x1="71.7" y1="544.49" x2="75.3" y2="544.49" stroke="#b07a35" stroke-width="0.9" />
<line x1="71.7" y1="556.12" x2="75.3" y2="556.12" stroke="#b07a35" stroke-width="0.9" />
<line x1="99" y1="547.56" x2="99" y2="559.19" stroke="#b07a35" stroke-width="0.9" />
<line x1="97.2" y1="547.56" x2="100.8" y2="547.56" stroke="#b07a35" stroke-width="0.9" />
<line x1="97.2" y1="559.19" x2="100.8" y2="559.19" stroke="#b07a35" stroke-width="0.9" />
<line x1="123.9" y1="548.72" x2="123.9" y2="560.35" stroke="#b07a35" stroke-width="0.9" />
<line x1="122.1" y1="548.72" x2="125.7" y2="548.72" stroke="#b07a35" stroke-width="0.9" />
<line x1="122.1" y1="560.35" x2="125.7" y2="560.35" stroke="#b07a35" stroke-width="0.9" />
<line x1="148.7" y1="583.08" x2="148.7" y2="592.39" stroke="#b07a35" stroke-width="0.9" />
<line x1="146.9" y1="583.08" x2="150.5" y2="583.08" stroke="#b07a35" stroke-width="0.9" />
<line x1="146.9" y1="592.39" x2="150.5" y2="592.39" stroke="#b07a35" stroke-width="0.9" />
<line x1="173.5" y1="580.02" x2="173.5" y2="589.32" stroke="#b07a35" stroke-width="0.9" />
<line x1="171.7" y1="580.02" x2="175.3" y2="580.02" stroke="#b07a35" stroke-width="0.9" />
<line x1="171.7" y1="589.32" x2="175.3" y2="589.32" stroke="#b07a35" stroke-width="0.9" />
<line x1="198.3" y1="574.63" x2="198.3" y2="583.93" stroke="#b07a35" stroke-width="0.9" />
<line x1="196.5" y1="574.63" x2="200.1" y2="574.63" stroke="#b07a35" stroke-width="0.9" />
<line x1="196.5" y1="583.93" x2="200.1" y2="583.93" stroke="#b07a35" stroke-width="0.9" />
<line x1="223.1" y1="494.17" x2="223.1" y2="512.77" stroke="#b07a35" stroke-width="0.9" />
<line x1="221.3" y1="494.17" x2="224.9" y2="494.17" stroke="#b07a35" stroke-width="0.9" />
<line x1="221.3" y1="512.77" x2="224.9" y2="512.77" stroke="#b07a35" stroke-width="0.9" />
<line x1="248" y1="505.11" x2="248" y2="531.86" stroke="#b07a35" stroke-width="0.9" />
<line x1="246.2" y1="505.11" x2="249.8" y2="505.11" stroke="#b07a35" stroke-width="0.9" />
<line x1="246.2" y1="531.86" x2="249.8" y2="531.86" stroke="#b07a35" stroke-width="0.9" />
<line x1="272.8" y1="512.88" x2="272.8" y2="538.47" stroke="#b07a35" stroke-width="0.9" />
<line x1="271" y1="512.88" x2="274.6" y2="512.88" stroke="#b07a35" stroke-width="0.9" />
<line x1="271" y1="538.47" x2="274.6" y2="538.47" stroke="#b07a35" stroke-width="0.9" />
<polyline points="73.5,546.82 99,548.93 123.9,551.05 148.7,582.03 173.5,579.6 198.3,574.31 223.1,507.17 248,519.33 272.8,524.62" fill="none" stroke="#a5a32a" stroke-width="1.1"/>
<polygon points="73.5,545.02 75.3,546.82 73.5,548.62 71.7,546.82" fill="#a5a32a"/>
<polygon points="99,547.13 100.8,548.93 99,550.73 97.2,548.93" fill="#a5a32a"/>
<polygon points="123.9,549.25 125.7,551.05 123.9,552.85 122.1,551.05" fill="#a5a32a"/>
<polygon points="148.7,580.23 150.5,582.03 148.7,583.83 146.9,582.03" fill="#a5a32a"/>
<polygon points="173.5,577.8 175.3,579.6 173.5,581.4 171.7,579.6" fill="#a5a32a"/>
<polygon points="198.3,572.51 200.1,574.31 198.3,576.11 196.5,574.31" fill="#a5a32a"/>
<polygon points="223.1,505.37 224.9,507.17 223.1,508.97 221.3,507.17" fill="#a5a32a"/>
<polygon points="248,517.53 249.8,519.33 248,521.13 246.2,519.33" fill="#a5a32a"/>
<polygon points="272.8,522.82 274.6,524.62 272.8,526.42 271,524.62" fill="#a5a32a"/>
<polyline points="73.5,542.17 99,547.56 123.9,549.89 148.7,582.98 173.5,580.65 198.3,575.37 223.1,505.06 248,516.69 272.8,521.97" fill="none" stroke="#7d2a8e" stroke-width="1.1"/>
<polygon points="71.7,540.67 75.3,540.67 73.5,543.87" fill="#7d2a8e"/>
<polygon points="97.2,546.06 100.8,546.06 99,549.26" fill="#7d2a8e"/>
<polygon points="122.1,548.39 125.7,548.39 123.9,551.59" fill="#7d2a8e"/>
<polygon points="146.9,581.48 150.5,581.48 148.7,584.68" fill="#7d2a8e"/>
<polygon points="171.7,579.15 175.3,579.15 173.5,582.35" fill="#7d2a8e"/>
<polygon points="196.5,573.87 200.1,573.87 198.3,577.07" fill="#7d2a8e"/>
<polygon points="221.3,503.56 224.9,503.56 223.1,506.76" fill="#7d2a8e"/>
<polygon points="246.2,515.19 249.8,515.19 248,518.39" fill="#7d2a8e"/>
<polygon points="271,520.47 274.6,520.47 272.8,523.67" fill="#7d2a8e"/>
<polyline points="73.5,545.13 99,548.62 123.9,550.31 148.7,581.18 173.5,578.54 198.3,573.04 223.1,508.76 248,520.39 272.8,523.98" fill="none" stroke="#1f7d25" stroke-width="1.1"/>
<polygon points="71.7,546.63 75.3,546.63 73.5,543.43" fill="#1f7d25"/>
<polygon points="97.2,550.12 100.8,550.12 99,546.92" fill="#1f7d25"/>
<polygon points="122.1,551.81 125.7,551.81 123.9,548.61" fill="#1f7d25"/>
<polygon points="146.9,582.68 150.5,582.68 148.7,579.48" fill="#1f7d25"/>
<polygon points="171.7,580.04 175.3,580.04 173.5,576.84" fill="#1f7d25"/>
<polygon points="196.5,574.54 200.1,574.54 198.3,571.34" fill="#1f7d25"/>
<polygon points="221.3,510.26 224.9,510.26 223.1,507.06" fill="#1f7d25"/>
<polygon points="246.2,521.89 249.8,521.89 248,518.69" fill="#1f7d25"/>
<polygon points="271,525.48 274.6,525.48 272.8,522.28" fill="#1f7d25"/>
<polyline points="73.5,550.31 99,553.37 123.9,554.54 148.7,587.74 173.5,584.67 198.3,579.28 223.1,503.47 248,518.48 272.8,525.67" fill="none" stroke="#b07a35" stroke-width="1.1"/>
<circle cx="73.5" cy="550.31" r="1.8" fill="#b07a35"/>
<circle cx="99" cy="553.37" r="1.8" fill="#b07a35"/>
<circle cx="123.9" cy="554.54" r="1.8" fill="#b07a35"/>
<circle cx="148.7" cy="587.74" r="1.8" fill="#b07a35"/>
<circle cx="173.5" cy="584.67" r="1.8" fill="#b07a35"/>
<circle cx="198.3" cy="579.28" r="1.8" fill="#b07a35"/>
<circle cx="223.1" cy="503.47" r="1.8" fill="#b07a35"/>
<circle cx="248" cy="518.48" r="1.8" fill="#b07a35"/>
<circle cx="272.8" cy="525.67" r="1.8" fill="#b07a35"/>
<polyline points="73.5,599.37 99,600.64 123.9,600.64 148.7,600.64 173.5,600.64 198.3,600.74 223.1,601.27 248,601.8 272.8,602.01" fill="none" stroke="#b41414" stroke-width="1.1"/>
<rect x="71.8" y="596.97" width="3.4" height="4.8" rx="0.8" fill="#b41414"/>
<rect x="97.3" y="598.24" width="3.4" height="4.8" rx="0.8" fill="#b41414"/>
<rect x="122.2" y="598.24" width="3.4" height="4.8" rx="0.8" fill="#b41414"/>
<rect x="147" y="598.24" width="3.4" height="4.8" rx="0.8" fill="#b41414"/>
<rect x="171.8" y="598.24" width="3.4" height="4.8" rx="0.8" fill="#b41414"/>
<rect x="196.6" y="598.34" width="3.4" height="4.8" rx="0.8" fill="#b41414"/>
<rect x="221.4" y="598.87" width="3.4" height="4.8" rx="0.8" fill="#b41414"/>
<rect x="246.3" y="599.4" width="3.4" height="4.8" rx="0.8" fill="#b41414"/>
<rect x="271.1" y="599.61" width="3.4" height="4.8" rx="0.8" fill="#b41414"/>
<line x1="309.8" y1="458.4" x2="325.5" y2="458.4" stroke="#b07a35" stroke-width="1.1" />
<circle cx="317.7" cy="458.4" r="1.4" fill="#b07a35"/>
<text x="334.3" y="462" font-size="10" font-weight="normal" text-anchor="start" fill="#000" textLength="65.8" lengthAdjust="spacingAndGlyphs" >Vehicle/DMSO</text>
<line x1="309.8" y1="475.4" x2="325.5" y2="475.4" stroke="#b41414" stroke-width="1.1" />
<rect x="316.1" y="473.8" width="3.2" height="3.2" fill="#b41414" />
<text x="334.3" y="479" font-size="10" font-weight="normal" text-anchor="start" fill="#000" textLength="32.1" lengthAdjust="spacingAndGlyphs" >Rot/AA</text>
<line x1="309.8" y1="492.5" x2="325.5" y2="492.5" stroke="#1f7d25" stroke-width="1.1" />
<circle cx="317.7" cy="492.5" r="1.4" fill="#1f7d25"/>
<text x="334.3" y="496.1" font-size="10" font-weight="normal" text-anchor="start" fill="#000" textLength="74.5" lengthAdjust="spacingAndGlyphs" >CN-861-2 20 µM</text>
<line x1="309.8" y1="509.5" x2="325.5" y2="509.5" stroke="#7d2a8e" stroke-width="1.1" />
<circle cx="317.7" cy="509.5" r="1.4" fill="#7d2a8e"/>
<text x="334.3" y="513.1" font-size="10" font-weight="normal" text-anchor="start" fill="#000" textLength="76.3" lengthAdjust="spacingAndGlyphs" >Cysto-180 20 µM</text>
<line x1="309.8" y1="526.4" x2="325.5" y2="526.4" stroke="#a5a32a" stroke-width="1.1" />
<circle cx="317.7" cy="526.4" r="1.4" fill="#a5a32a"/>
<text x="334.3" y="530" font-size="10" font-weight="normal" text-anchor="start" fill="#000" textLength="84.7" lengthAdjust="spacingAndGlyphs" >CN-DM-861 20 µM</text>
<line x1="499" y1="450.6" x2="499" y2="609.8" stroke="#000" stroke-width="2" />
<line x1="492.4" y1="451.4" x2="499" y2="451.4" stroke="#000" stroke-width="2" />
<text x="490.6" y="454.8" font-size="10" font-weight="bold" text-anchor="end" fill="#000" >50</text>
<line x1="492.4" y1="482.9" x2="499" y2="482.9" stroke="#000" stroke-width="2" />
<text x="490.6" y="486.3" font-size="10" font-weight="bold" text-anchor="end" fill="#000" >40</text>
<line x1="492.4" y1="514.4" x2="499" y2="514.4" stroke="#000" stroke-width="2" />
<text x="490.6" y="517.8" font-size="10" font-weight="bold" text-anchor="end" fill="#000" >30</text>
<line x1="492.4" y1="545.9" x2="499" y2="545.9" stroke="#000" stroke-width="2" />
<text x="490.6" y="549.3" font-size="10" font-weight="bold" text-anchor="end" fill="#000" >20</text>
<line x1="492.4" y1="577.4" x2="499" y2="577.4" stroke="#000" stroke-width="2" />
<text x="490.6" y="580.8" font-size="10" font-weight="bold" text-anchor="end" fill="#000" >10</text>
<line x1="492.4" y1="608.9" x2="499" y2="608.9" stroke="#000" stroke-width="2" />
<text x="490.6" y="612.3" font-size="10" font-weight="bold" text-anchor="end" fill="#000" >0</text>
<line x1="498" y1="608.8" x2="671.3" y2="608.8" stroke="#000" stroke-width="2" />
<line x1="525" y1="608.8" x2="525" y2="614.9" stroke="#000" stroke-width="2" />
<line x1="565" y1="608.8" x2="565" y2="614.9" stroke="#000" stroke-width="2" />
<line x1="604.7" y1="608.8" x2="604.7" y2="614.9" stroke="#000" stroke-width="2" />
<line x1="644.6" y1="608.8" x2="644.6" y2="614.9" stroke="#000" stroke-width="2" />
<text x="527.6" y="624.9" font-size="10" font-weight="bold" text-anchor="end" fill="#000" transform="rotate(-45 527.6 624.9)">Control</text>
<text x="567.6" y="624.9" font-size="10" font-weight="bold" text-anchor="end" fill="#000" transform="rotate(-45 567.6 624.9)">CN-861-2</text>
<text x="607.3" y="624.9" font-size="10" font-weight="bold" text-anchor="end" fill="#000" transform="rotate(-45 607.3 624.9)">CN-DM-861</text>
<text x="647.2" y="624.9" font-size="10" font-weight="bold" text-anchor="end" fill="#000" transform="rotate(-45 647.2 624.9)">Cysto-180</text>
<text x="459.5" y="530.4" font-size="10" font-weight="bold" text-anchor="middle" fill="#000" textLength="126.3" lengthAdjust="spacingAndGlyphs" transform="rotate(-90 459.5 530.4)">Averaged oligomycin OCR</text>
<text x="470.3" y="530.6" font-size="10" font-weight="bold" text-anchor="middle" fill="#000" textLength="120.9" lengthAdjust="spacingAndGlyphs" transform="rotate(-90 470.3 530.6)">[% normalized to control]</text>
<polyline points="524.9,432.4 524.9,423.5 644.5,423.5 644.5,470.9" fill="none" stroke="#000" stroke-width="1.3"/>
<polyline points="524.9,451.5 524.9,442.1 604.7,442.1 604.7,466.8" fill="none" stroke="#000" stroke-width="1.3"/>
<polyline points="524.9,488.5 524.9,461.2 565.2,461.2 565.2,465.7" fill="none" stroke="#000" stroke-width="1.3"/>
<line x1="581.1" y1="412" x2="581.1" y2="417.8" stroke="#000" stroke-width="1.15" />
<line x1="578.59" y1="413.45" x2="583.61" y2="416.35" stroke="#000" stroke-width="1.15" />
<line x1="583.61" y1="413.45" x2="578.59" y2="416.35" stroke="#000" stroke-width="1.15" />
<circle cx="581.1" cy="414.9" r="1.3" fill="#000"/>
<line x1="588.3" y1="412" x2="588.3" y2="417.8" stroke="#000" stroke-width="1.15" />
<line x1="585.79" y1="413.45" x2="590.81" y2="416.35" stroke="#000" stroke-width="1.15" />
<line x1="590.81" y1="413.45" x2="585.79" y2="416.35" stroke="#000" stroke-width="1.15" />
<circle cx="588.3" cy="414.9" r="1.3" fill="#000"/>
<line x1="553.9" y1="430" x2="553.9" y2="435.8" stroke="#000" stroke-width="1.15" />
<line x1="551.39" y1="431.45" x2="556.41" y2="434.35" stroke="#000" stroke-width="1.15" />
<line x1="556.41" y1="431.45" x2="551.39" y2="434.35" stroke="#000" stroke-width="1.15" />
<circle cx="553.9" cy="432.9" r="1.3" fill="#000"/>
<line x1="561.2" y1="430" x2="561.2" y2="435.8" stroke="#000" stroke-width="1.15" />
<line x1="558.69" y1="431.45" x2="563.71" y2="434.35" stroke="#000" stroke-width="1.15" />
<line x1="563.71" y1="431.45" x2="558.69" y2="434.35" stroke="#000" stroke-width="1.15" />
<circle cx="561.2" cy="432.9" r="1.3" fill="#000"/>
<line x1="568.5" y1="430" x2="568.5" y2="435.8" stroke="#000" stroke-width="1.15" />
<line x1="565.99" y1="431.45" x2="571.01" y2="434.35" stroke="#000" stroke-width="1.15" />
<line x1="571.01" y1="431.45" x2="565.99" y2="434.35" stroke="#000" stroke-width="1.15" />
<circle cx="568.5" cy="432.9" r="1.3" fill="#000"/>
<line x1="575.8" y1="430" x2="575.8" y2="435.8" stroke="#000" stroke-width="1.15" />
<line x1="573.29" y1="431.45" x2="578.31" y2="434.35" stroke="#000" stroke-width="1.15" />
<line x1="578.31" y1="431.45" x2="573.29" y2="434.35" stroke="#000" stroke-width="1.15" />
<circle cx="575.8" cy="432.9" r="1.3" fill="#000"/>
<line x1="534.2" y1="449.5" x2="534.2" y2="455.3" stroke="#000" stroke-width="1.15" />
<line x1="531.69" y1="450.95" x2="536.71" y2="453.85" stroke="#000" stroke-width="1.15" />
<line x1="536.71" y1="450.95" x2="531.69" y2="453.85" stroke="#000" stroke-width="1.15" />
<circle cx="534.2" cy="452.4" r="1.3" fill="#000"/>
<line x1="541.5" y1="449.5" x2="541.5" y2="455.3" stroke="#000" stroke-width="1.15" />
<line x1="538.99" y1="450.95" x2="544.01" y2="453.85" stroke="#000" stroke-width="1.15" />
<line x1="544.01" y1="450.95" x2="538.99" y2="453.85" stroke="#000" stroke-width="1.15" />
<circle cx="541.5" cy="452.4" r="1.3" fill="#000"/>
<line x1="548.8" y1="449.5" x2="548.8" y2="455.3" stroke="#000" stroke-width="1.15" />
<line x1="546.29" y1="450.95" x2="551.31" y2="453.85" stroke="#000" stroke-width="1.15" />
<line x1="551.31" y1="450.95" x2="546.29" y2="453.85" stroke="#000" stroke-width="1.15" />
<circle cx="548.8" cy="452.4" r="1.3" fill="#000"/>
<line x1="556.1" y1="449.5" x2="556.1" y2="455.3" stroke="#000" stroke-width="1.15" />
<line x1="553.59" y1="450.95" x2="558.61" y2="453.85" stroke="#000" stroke-width="1.15" />
<line x1="558.61" y1="450.95" x2="553.59" y2="453.85" stroke="#000" stroke-width="1.15" />
<circle cx="556.1" cy="452.4" r="1.3" fill="#000"/>
<line x1="525.2" y1="497.7" x2="525.2" y2="505.5" stroke="#000" stroke-width="1.4" />
<line x1="525.2" y1="562" x2="525.2" y2="569.8" stroke="#000" stroke-width="1.4" />
<path d="M525.1,504.5 C524.82,505.08 524.25,506.65 523.6,508 C522.95,509.35 522.1,511.27 521.2,512.6 C520.3,513.93 518.92,515.02 518.2,516 C517.48,516.98 517.1,517.55 516.9,518.5 C516.7,519.45 516.78,520.7 517,521.7 C517.22,522.7 517.88,523.6 518.2,524.5 C518.52,525.4 519.23,526.18 518.9,527.1 C518.57,528.02 517.27,528.78 516.2,530 C515.13,531.22 512.92,533.23 512.5,534.4 C512.08,535.57 513,536.1 513.7,537 C514.4,537.9 516.05,538.78 516.7,539.8 C517.35,540.82 517.4,542.07 517.6,543.1 C517.8,544.13 517.8,545.03 517.9,546 C518,546.97 517.82,547.9 518.2,548.9 C518.58,549.9 519.43,550.78 520.2,552 C520.97,553.22 522.12,554.87 522.8,556.2 C523.48,557.53 523.92,558.87 524.3,560 C524.68,561.13 524.93,562.5 525.1,563 C525.27,563.5 525.13,563.5 525.3,563 C525.47,562.5 525.72,561.13 526.1,560 C526.48,558.87 526.92,557.53 527.6,556.2 C528.28,554.87 529.43,553.22 530.2,552 C530.97,550.78 531.82,549.9 532.2,548.9 C532.58,547.9 532.4,546.97 532.5,546 C532.6,545.03 532.6,544.13 532.8,543.1 C533,542.07 533.05,540.82 533.7,539.8 C534.35,538.78 536,537.9 536.7,537 C537.4,536.1 538.32,535.57 537.9,534.4 C537.48,533.23 535.27,531.22 534.2,530 C533.13,528.78 531.83,528.02 531.5,527.1 C531.17,526.18 531.88,525.4 532.2,524.5 C532.52,523.6 533.18,522.7 533.4,521.7 C533.62,520.7 533.7,519.45 533.5,518.5 C533.3,517.55 532.92,516.98 532.2,516 C531.48,515.02 530.1,513.93 529.2,512.6 C528.3,511.27 527.45,509.35 526.8,508 C526.15,506.65 525.58,505.08 525.3,504.5 C525.02,503.92 525.38,503.92 525.1,504.5 Z" fill="#9a6823" stroke="#000" stroke-width="1.3" stroke-linejoin="round"/>
<line x1="517.79" y1="521.5" x2="532.61" y2="521.5" stroke="#000" stroke-width="1" stroke-dasharray="0.8,0.9"/>
<line x1="513.3" y1="534.4" x2="537.1" y2="534.4" stroke="#000" stroke-width="1" stroke-dasharray="1.9,1.7"/>
<line x1="518.4" y1="543.1" x2="532" y2="543.1" stroke="#000" stroke-width="1" stroke-dasharray="0.8,0.9"/>
<line x1="565" y1="475.4" x2="565" y2="481.5" stroke="#000" stroke-width="1.4" />
<line x1="565" y1="547" x2="565" y2="553.4" stroke="#000" stroke-width="1.4" />
<path d="M564.9,480.5 C564.58,481.08 564.1,482.42 563.2,484 C562.3,485.58 560.87,487.95 559.5,490 C558.13,492.05 556.2,494.2 555,496.3 C553.8,498.4 552.57,500.98 552.3,502.6 C552.03,504.22 553.1,504.93 553.4,506 C553.7,507.07 554.17,508.08 554.1,509 C554.03,509.92 553.35,510.67 553,511.5 C552.65,512.33 552,513.08 552,514 C552,514.92 552.58,515.87 553,517 C553.42,518.13 554.37,519.63 554.5,520.8 C554.63,521.97 553.93,522.95 553.8,524 C553.67,525.05 553.47,526.02 553.7,527.1 C553.93,528.18 554.53,529.28 555.2,530.5 C555.87,531.72 556.87,532.98 557.7,534.4 C558.53,535.82 559.32,537.33 560.2,539 C561.08,540.67 562.22,542.9 563,544.4 C563.78,545.9 564.55,547.4 564.9,548 C565.25,548.6 564.75,548.6 565.1,548 C565.45,547.4 566.22,545.9 567,544.4 C567.78,542.9 568.92,540.67 569.8,539 C570.68,537.33 571.47,535.82 572.3,534.4 C573.13,532.98 574.13,531.72 574.8,530.5 C575.47,529.28 576.07,528.18 576.3,527.1 C576.53,526.02 576.33,525.05 576.2,524 C576.07,522.95 575.37,521.97 575.5,520.8 C575.63,519.63 576.58,518.13 577,517 C577.42,515.87 578,514.92 578,514 C578,513.08 577.35,512.33 577,511.5 C576.65,510.67 575.97,509.92 575.9,509 C575.83,508.08 576.3,507.07 576.6,506 C576.9,504.93 577.97,504.22 577.7,502.6 C577.43,500.98 576.2,498.4 575,496.3 C573.8,494.2 571.87,492.05 570.5,490 C569.13,487.95 567.7,485.58 566.8,484 C565.9,482.42 565.42,481.08 565.1,480.5 C564.78,479.92 565.22,479.92 564.9,480.5 Z" fill="#006400" stroke="#000" stroke-width="1.3" stroke-linejoin="round"/>
<line x1="553.1" y1="502.6" x2="576.9" y2="502.6" stroke="#000" stroke-width="1" stroke-dasharray="0.8,0.9"/>
<line x1="552.83" y1="514.1" x2="577.17" y2="514.1" stroke="#000" stroke-width="1" stroke-dasharray="1.9,1.7"/>
<line x1="554.5" y1="527.1" x2="575.5" y2="527.1" stroke="#000" stroke-width="1" stroke-dasharray="0.8,0.9"/>
<line x1="604.8" y1="476.3" x2="604.8" y2="482.5" stroke="#000" stroke-width="1.4" />
<line x1="604.8" y1="545.5" x2="604.8" y2="552.5" stroke="#000" stroke-width="1.4" />
<path d="M604.7,481.5 C604.38,482.08 603.78,483.58 603,485 C602.22,486.42 601.07,488.42 600,490 C598.93,491.58 597.62,493 596.6,494.5 C595.58,496 594.42,497.25 593.9,499 C593.38,500.75 593.5,503.33 593.5,505 C593.5,506.67 593.35,507.75 593.9,509 C594.45,510.25 596.05,511.45 596.8,512.5 C597.55,513.55 598.32,514.22 598.4,515.3 C598.48,516.38 597.9,517.63 597.3,519 C596.7,520.37 595.48,522.08 594.8,523.5 C594.12,524.92 593.62,526.28 593.2,527.5 C592.78,528.72 592.48,529.95 592.3,530.8 C592.12,531.65 591.82,531.82 592.1,532.6 C592.38,533.38 593.25,534.6 594,535.5 C594.75,536.4 595.63,537.08 596.6,538 C597.57,538.92 598.8,540.08 599.8,541 C600.8,541.92 601.78,542.58 602.6,543.5 C603.42,544.42 604.32,546 604.7,546.5 C605.08,547 604.52,547 604.9,546.5 C605.28,546 606.18,544.42 607,543.5 C607.82,542.58 608.8,541.92 609.8,541 C610.8,540.08 612.03,538.92 613,538 C613.97,537.08 614.85,536.4 615.6,535.5 C616.35,534.6 617.22,533.38 617.5,532.6 C617.78,531.82 617.48,531.65 617.3,530.8 C617.12,529.95 616.82,528.72 616.4,527.5 C615.98,526.28 615.48,524.92 614.8,523.5 C614.12,522.08 612.9,520.37 612.3,519 C611.7,517.63 611.12,516.38 611.2,515.3 C611.28,514.22 612.05,513.55 612.8,512.5 C613.55,511.45 615.15,510.25 615.7,509 C616.25,507.75 616.1,506.67 616.1,505 C616.1,503.33 616.22,500.75 615.7,499 C615.18,497.25 614.02,496 613,494.5 C611.98,493 610.67,491.58 609.6,490 C608.53,488.42 607.38,486.42 606.6,485 C605.82,483.58 605.22,482.08 604.9,481.5 C604.58,480.92 605.02,480.92 604.7,481.5 Z" fill="#808000" stroke="#000" stroke-width="1.3" stroke-linejoin="round"/>
<line x1="594.3" y1="505" x2="615.3" y2="505" stroke="#000" stroke-width="1" stroke-dasharray="0.8,0.9"/>
<line x1="599.2" y1="515.3" x2="610.4" y2="515.3" stroke="#000" stroke-width="1" stroke-dasharray="1.9,1.7"/>
<line x1="593.1" y1="530.8" x2="616.5" y2="530.8" stroke="#000" stroke-width="1" stroke-dasharray="0.8,0.9"/>
<line x1="644.5" y1="480" x2="644.5" y2="487" stroke="#000" stroke-width="1.4" />
<line x1="644.5" y1="547.5" x2="644.5" y2="555.3" stroke="#000" stroke-width="1.4" />
<path d="M644.4,486 C644.02,486.67 642.83,488.43 642.3,490 C641.77,491.57 641.22,493.9 641.2,495.4 C641.18,496.9 641.95,497.95 642.2,499 C642.45,500.05 642.85,500.78 642.7,501.7 C642.55,502.62 641.85,503.43 641.3,504.5 C640.75,505.57 640.12,506.85 639.4,508.1 C638.68,509.35 637.65,510.8 637,512 C636.35,513.2 636,514.13 635.5,515.3 C635,516.47 634.38,517.78 634,519 C633.62,520.22 633.5,521.52 633.2,522.6 C632.9,523.68 632.43,524.68 632.2,525.5 C631.97,526.32 631.75,526.58 631.8,527.5 C631.85,528.42 632.18,529.85 632.5,531 C632.82,532.15 633.2,533.4 633.7,534.4 C634.2,535.4 634.9,536.1 635.5,537 C636.1,537.9 636.55,538.8 637.3,539.8 C638.05,540.8 639.25,542.08 640,543 C640.75,543.92 641.07,544.38 641.8,545.3 C642.53,546.22 643.93,547.97 644.4,548.5 C644.87,549.03 644.13,549.03 644.6,548.5 C645.07,547.97 646.47,546.22 647.2,545.3 C647.93,544.38 648.25,543.92 649,543 C649.75,542.08 650.95,540.8 651.7,539.8 C652.45,538.8 652.9,537.9 653.5,537 C654.1,536.1 654.8,535.4 655.3,534.4 C655.8,533.4 656.18,532.15 656.5,531 C656.82,529.85 657.15,528.42 657.2,527.5 C657.25,526.58 657.03,526.32 656.8,525.5 C656.57,524.68 656.1,523.68 655.8,522.6 C655.5,521.52 655.38,520.22 655,519 C654.62,517.78 654,516.47 653.5,515.3 C653,514.13 652.65,513.2 652,512 C651.35,510.8 650.32,509.35 649.6,508.1 C648.88,506.85 648.25,505.57 647.7,504.5 C647.15,503.43 646.45,502.62 646.3,501.7 C646.15,500.78 646.55,500.05 646.8,499 C647.05,497.95 647.82,496.9 647.8,495.4 C647.78,493.9 647.23,491.57 646.7,490 C646.17,488.43 644.98,486.67 644.6,486 C644.22,485.33 644.78,485.33 644.4,486 Z" fill="#4b0a6b" stroke="#000" stroke-width="1.3" stroke-linejoin="round"/>
<line x1="636.3" y1="515.3" x2="652.7" y2="515.3" stroke="#000" stroke-width="1" stroke-dasharray="0.8,0.9"/>
<line x1="632.6" y1="527.5" x2="656.4" y2="527.5" stroke="#000" stroke-width="1" stroke-dasharray="1.9,1.7"/>
<line x1="634.5" y1="534.4" x2="654.5" y2="534.4" stroke="#000" stroke-width="1" stroke-dasharray="0.8,0.9"/>
<polygon points="95.6,58.6 105.56,64.35 105.56,75.85 95.6,81.6 85.64,75.85 85.64,64.35" fill="none" stroke="#2a2a2a" stroke-width="0.85"/>
<line x1="96.04" y1="61.05" x2="103.22" y2="65.2" stroke="#6a6a6a" stroke-width="0.75" />
<line x1="103.22" y1="75" x2="96.04" y2="79.15" stroke="#6a6a6a" stroke-width="0.75" />
<line x1="87.54" y1="74.25" x2="87.54" y2="65.95" stroke="#6a6a6a" stroke-width="0.75" />
<text x="95.6" y="72.6" font-size="7" font-weight="normal" text-anchor="middle" fill="#2a2a2a" >A</text>
<line x1="86.44" y1="77.24" x2="71.3" y2="85.99" stroke="#2a2a2a" stroke-width="0.7" />
<line x1="85.64" y1="75.85" x2="70.5" y2="84.6" stroke="#2a2a2a" stroke-width="0.7" />
<line x1="84.84" y1="74.46" x2="69.7" y2="83.21" stroke="#2a2a2a" stroke-width="0.7" />
<text x="66.5" y="90" font-size="7.9" font-weight="normal" text-anchor="middle" fill="#1a1a1a" >N</text>
<line x1="105.56" y1="64.35" x2="115.5" y2="58.4" stroke="#2a2a2a" stroke-width="0.85" stroke-linecap="round"/>
<line x1="116.5" y1="58.4" x2="116.5" y2="50" stroke="#2a2a2a" stroke-width="0.85" stroke-linecap="round"/>
<line x1="114.5" y1="58.4" x2="114.5" y2="50" stroke="#2a2a2a" stroke-width="0.85" stroke-linecap="round"/>
<text x="115.3" y="49.1" font-size="7.9" font-weight="normal" text-anchor="middle" fill="#1a1a1a" >O</text>
<line x1="115.5" y1="58.4" x2="122.97" y2="62.7" stroke="#2a2a2a" stroke-width="0.85" stroke-linecap="round"/>
<text x="125.4" y="66.9" font-size="7.9" font-weight="normal" text-anchor="middle" fill="#1a1a1a" >N</text>
<text x="125.4" y="73.8" font-size="7.9" font-weight="normal" text-anchor="middle" fill="#1a1a1a" >H</text>
<polygon points="144,41.6 153.96,47.35 153.96,58.85 144,64.6 134.04,58.85 134.04,47.35" fill="none" stroke="#2a2a2a" stroke-width="0.85"/>
<line x1="152.06" y1="48.95" x2="152.06" y2="57.25" stroke="#6a6a6a" stroke-width="0.75" />
<line x1="143.56" y1="62.15" x2="136.38" y2="58" stroke="#6a6a6a" stroke-width="0.75" />
<line x1="136.38" y1="48.2" x2="143.56" y2="44.05" stroke="#6a6a6a" stroke-width="0.75" />
<text x="144" y="55.6" font-size="7" font-weight="normal" text-anchor="middle" fill="#2a2a2a" >B</text>
<line x1="127.79" y1="62.65" x2="134.04" y2="58.85" stroke="#2a2a2a" stroke-width="0.85" stroke-linecap="round"/>
<line x1="153.96" y1="47.35" x2="163.9" y2="41.6" stroke="#2a2a2a" stroke-width="0.85" stroke-linecap="round"/>
<line x1="163.4" y1="42.47" x2="170.74" y2="46.71" stroke="#2a2a2a" stroke-width="0.85" stroke-linecap="round"/>
<line x1="164.4" y1="40.73" x2="171.74" y2="44.98" stroke="#2a2a2a" stroke-width="0.85" stroke-linecap="round"/>
<text x="174.3" y="50.4" font-size="7.9" font-weight="normal" text-anchor="middle" fill="#1a1a1a" >O</text>
<line x1="163.9" y1="41.6" x2="163.9" y2="33.4" stroke="#2a2a2a" stroke-width="0.85" stroke-linecap="round"/>
<text x="161" y="33.2" font-size="7.9" font-weight="normal" text-anchor="middle" fill="#1a1a1a" textLength="9.5" lengthAdjust="spacingAndGlyphs" >HN</text>
<polygon points="166,29.2 173.94,25.96 172.86,24.04" fill="#2a2a2a"/>
<line x1="173.4" y1="25" x2="173.4" y2="13.9" stroke="#2a2a2a" stroke-width="0.85" stroke-linecap="round"/>
<polygon points="173.4,13.9 166.69,8.93 165.71,10.67" fill="#2a2a2a"/>
<text x="163.4" y="11.3" font-size="7.9" font-weight="normal" text-anchor="middle" fill="#e0462f" >R</text>
<line x1="173.4" y1="13.9" x2="180.2" y2="10.5" stroke="#2a2a2a" stroke-width="0.85" stroke-linecap="round"/>
<text x="180.5" y="12.4" font-size="7.9" font-weight="normal" text-anchor="start" fill="#1a1a1a" textLength="22" lengthAdjust="spacingAndGlyphs" >CONH<tspan font-size="5.5" dy="1.8">2</tspan></text>
<line x1="173.4" y1="25" x2="183.2" y2="30.6" stroke="#2a2a2a" stroke-width="0.85" stroke-linecap="round"/>
<line x1="182.2" y1="30.6" x2="182.2" y2="39.5" stroke="#2a2a2a" stroke-width="0.85" stroke-linecap="round"/>
<line x1="184.2" y1="30.6" x2="184.2" y2="39.5" stroke="#2a2a2a" stroke-width="0.85" stroke-linecap="round"/>
<text x="183.4" y="46" font-size="7.9" font-weight="normal" text-anchor="middle" fill="#1a1a1a" >O</text>
<line x1="183.2" y1="30.6" x2="191.14" y2="26.25" stroke="#2a2a2a" stroke-width="0.85" stroke-linecap="round"/>
<text x="193.6" y="27.7" font-size="7.9" font-weight="normal" text-anchor="middle" fill="#1a1a1a" >N</text>
<text x="193.6" y="21.1" font-size="7.9" font-weight="normal" text-anchor="middle" fill="#1a1a1a" >H</text>
<polygon points="213.8,24.15 223.85,29.95 223.85,41.55 213.8,47.35 203.75,41.55 203.75,29.95" fill="none" stroke="#2a2a2a" stroke-width="0.85"/>
<line x1="214.24" y1="26.6" x2="221.51" y2="30.8" stroke="#6a6a6a" stroke-width="0.75" />
<line x1="221.51" y1="40.7" x2="214.24" y2="44.9" stroke="#6a6a6a" stroke-width="0.75" />
<line x1="205.65" y1="39.95" x2="205.65" y2="31.55" stroke="#6a6a6a" stroke-width="0.75" />
<text x="212.8" y="38.8" font-size="7" font-weight="normal" text-anchor="middle" fill="#2a2a2a" >C</text>
<line x1="196.11" y1="26.15" x2="203.75" y2="29.95" stroke="#2a2a2a" stroke-width="0.85" stroke-linecap="round"/>
<line x1="223.85" y1="41.55" x2="233" y2="47.4" stroke="#2a2a2a" stroke-width="0.85" stroke-linecap="round"/>
<line x1="232" y1="47.4" x2="232" y2="55.2" stroke="#2a2a2a" stroke-width="0.85" stroke-linecap="round"/>
<line x1="234" y1="47.4" x2="234" y2="55.2" stroke="#2a2a2a" stroke-width="0.85" stroke-linecap="round"/>
<text x="232.7" y="61.8" font-size="7.9" font-weight="normal" text-anchor="middle" fill="#1a1a1a" >O</text>
<line x1="233" y1="47.4" x2="239.89" y2="43.33" stroke="#2a2a2a" stroke-width="0.85" stroke-linecap="round"/>
<text x="242.3" y="44.7" font-size="7.9" font-weight="normal" text-anchor="middle" fill="#1a1a1a" >N</text>
<text x="242.3" y="38.2" font-size="7.9" font-weight="normal" text-anchor="middle" fill="#1a1a1a" >H</text>
<polygon points="261.5,41.55 271.46,47.3 271.46,58.8 261.5,64.55 251.54,58.8 251.54,47.3" fill="none" stroke="#2a2a2a" stroke-width="0.85"/>
<line x1="261.94" y1="44" x2="269.12" y2="48.15" stroke="#6a6a6a" stroke-width="0.75" />
<line x1="269.12" y1="57.95" x2="261.94" y2="62.1" stroke="#6a6a6a" stroke-width="0.75" />
<line x1="253.44" y1="57.2" x2="253.44" y2="48.9" stroke="#6a6a6a" stroke-width="0.75" />
<text x="261.4" y="56.4" font-size="7" font-weight="normal" text-anchor="middle" fill="#2a2a2a" >D</text>
<line x1="244.72" y1="43.31" x2="251.54" y2="47.3" stroke="#2a2a2a" stroke-width="0.85" stroke-linecap="round"/>
<line x1="261.5" y1="41.55" x2="261.5" y2="33.8" stroke="#2a2a2a" stroke-width="0.85" stroke-linecap="round"/>
<text x="261.5" y="33.4" font-size="7.9" font-weight="normal" text-anchor="middle" fill="#1a1a1a" >O</text>
<line x1="263.68" y1="29.59" x2="271.4" y2="24.6" stroke="#2a2a2a" stroke-width="0.85" stroke-linecap="round"/>
<line x1="271.4" y1="24.6" x2="271.4" y2="13.4" stroke="#2a2a2a" stroke-width="0.85" stroke-linecap="round"/>
<line x1="271.4" y1="24.6" x2="281.2" y2="30.3" stroke="#2a2a2a" stroke-width="0.85" stroke-linecap="round"/>
<line x1="271.46" y1="47.3" x2="278.57" y2="43.06" stroke="#2a2a2a" stroke-width="0.85" stroke-linecap="round"/>
<text x="278.4" y="45" font-size="7.9" font-weight="normal" text-anchor="start" fill="#1a1a1a" textLength="10.5" lengthAdjust="spacingAndGlyphs" >OH</text>
<line x1="271.46" y1="58.8" x2="281.3" y2="64.6" stroke="#2a2a2a" stroke-width="0.85" stroke-linecap="round"/>
<line x1="280.3" y1="64.6" x2="280.3" y2="72.6" stroke="#2a2a2a" stroke-width="0.85" stroke-linecap="round"/>
<line x1="282.3" y1="64.6" x2="282.3" y2="72.6" stroke="#2a2a2a" stroke-width="0.85" stroke-linecap="round"/>
<text x="281" y="79.1" font-size="7.9" font-weight="normal" text-anchor="middle" fill="#1a1a1a" >O</text>
<line x1="281.3" y1="64.6" x2="288.59" y2="60.32" stroke="#2a2a2a" stroke-width="0.85" stroke-linecap="round"/>
<text x="291" y="61.7" font-size="7.9" font-weight="normal" text-anchor="middle" fill="#1a1a1a" >N</text>
<text x="291" y="55.3" font-size="7.9" font-weight="normal" text-anchor="middle" fill="#1a1a1a" >H</text>
<polygon points="310.6,58 320.65,63.8 320.65,75.4 310.6,81.2 300.55,75.4 300.55,63.8" fill="none" stroke="#2a2a2a" stroke-width="0.85"/>
<line x1="311.04" y1="60.45" x2="318.31" y2="64.65" stroke="#6a6a6a" stroke-width="0.75" />
<line x1="318.31" y1="74.55" x2="311.04" y2="78.75" stroke="#6a6a6a" stroke-width="0.75" />
<line x1="302.45" y1="73.8" x2="302.45" y2="65.4" stroke="#6a6a6a" stroke-width="0.75" />
<text x="309.8" y="72.4" font-size="7" font-weight="normal" text-anchor="middle" fill="#2a2a2a" >E</text>
<line x1="293.49" y1="60.18" x2="300.55" y2="63.8" stroke="#2a2a2a" stroke-width="0.85" stroke-linecap="round"/>
<line x1="320.65" y1="75.4" x2="330.5" y2="81.4" stroke="#2a2a2a" stroke-width="0.85" stroke-linecap="round"/>
<line x1="329.5" y1="81.4" x2="329.5" y2="89.4" stroke="#2a2a2a" stroke-width="0.85" stroke-linecap="round"/>
<line x1="331.5" y1="81.4" x2="331.5" y2="89.4" stroke="#2a2a2a" stroke-width="0.85" stroke-linecap="round"/>
<text x="330.2" y="95.8" font-size="7.9" font-weight="normal" text-anchor="middle" fill="#1a1a1a" >O</text>
<line x1="330.5" y1="81.4" x2="337.5" y2="77.2" stroke="#2a2a2a" stroke-width="0.85" stroke-linecap="round"/>
<text x="337.3" y="79.4" font-size="7.9" font-weight="normal" text-anchor="start" fill="#1a1a1a" textLength="10.5" lengthAdjust="spacingAndGlyphs" >OH</text>
<text x="56.1" y="17.8" font-size="8.6" font-weight="normal" text-anchor="start" fill="#000" textLength="82.9" lengthAdjust="spacingAndGlyphs" ><tspan font-weight="bold">CN-861-2</tspan>, R = OMe</text>
<text x="56.1" y="32.4" font-size="8.6" font-weight="normal" text-anchor="start" fill="#000" textLength="78.9" lengthAdjust="spacingAndGlyphs" ><tspan font-weight="bold">CN-DM-861</tspan>, R = H</text>
<polygon points="95.1,116 104.97,121.7 104.97,133.1 95.1,138.8 85.23,133.1 85.23,121.7" fill="none" stroke="#2a2a2a" stroke-width="0.85"/>
<line x1="95.54" y1="118.45" x2="102.64" y2="122.55" stroke="#6a6a6a" stroke-width="0.75" />
<line x1="102.64" y1="132.25" x2="95.54" y2="136.35" stroke="#6a6a6a" stroke-width="0.75" />
<line x1="87.13" y1="131.5" x2="87.13" y2="123.3" stroke="#6a6a6a" stroke-width="0.75" />
<line x1="86.03" y1="134.49" x2="71" y2="143.19" stroke="#2a2a2a" stroke-width="0.7" />
<line x1="85.23" y1="133.1" x2="70.2" y2="141.8" stroke="#2a2a2a" stroke-width="0.7" />
<line x1="84.43" y1="131.71" x2="69.4" y2="140.41" stroke="#2a2a2a" stroke-width="0.7" />
<text x="66.3" y="147.3" font-size="7.9" font-weight="normal" text-anchor="middle" fill="#1a1a1a" >N</text>
<line x1="104.97" y1="121.7" x2="114.8" y2="115.9" stroke="#2a2a2a" stroke-width="0.85" stroke-linecap="round"/>
<line x1="115.8" y1="115.9" x2="115.8" y2="107.8" stroke="#2a2a2a" stroke-width="0.85" stroke-linecap="round"/>
<line x1="113.8" y1="115.9" x2="113.8" y2="107.8" stroke="#2a2a2a" stroke-width="0.85" stroke-linecap="round"/>
<text x="114.6" y="107.4" font-size="7.9" font-weight="normal" text-anchor="middle" fill="#1a1a1a" >O</text>
<line x1="114.8" y1="115.9" x2="121.53" y2="120.11" stroke="#2a2a2a" stroke-width="0.85" stroke-linecap="round"/>
<text x="123.9" y="124.4" font-size="7.9" font-weight="normal" text-anchor="middle" fill="#e0462f" >N</text>
<text x="123.9" y="131.2" font-size="7.9" font-weight="normal" text-anchor="middle" fill="#e0462f" >H</text>
<line x1="126.37" y1="120.27" x2="134.3" y2="116" stroke="#e0462f" stroke-width="0.85" stroke-linecap="round"/>
<polygon points="134.3,116.0 136.7,105.9 147.0,108.2 144.6,118.6" fill="none" stroke="#e0462f" stroke-width="0.85"/>
<line x1="134.3" y1="116" x2="147" y2="108.2" stroke="#e0462f" stroke-width="0.85" stroke-linecap="round"/>
<line x1="147" y1="108.2" x2="156.5" y2="103.2" stroke="#e0462f" stroke-width="0.85" stroke-linecap="round"/>
<line x1="157.5" y1="103.2" x2="157.5" y2="95.2" stroke="#e0462f" stroke-width="0.85" stroke-linecap="round"/>
<line x1="155.5" y1="103.2" x2="155.5" y2="95.2" stroke="#e0462f" stroke-width="0.85" stroke-linecap="round"/>
<text x="156.4" y="94.4" font-size="7.9" font-weight="normal" text-anchor="middle" fill="#e0462f" >O</text>
<line x1="156.5" y1="103.2" x2="164.13" y2="107.28" stroke="#e0462f" stroke-width="0.85" stroke-linecap="round"/>
<text x="166.6" y="111.4" font-size="7.9" font-weight="normal" text-anchor="middle" fill="#e0462f" >N</text>
<text x="166.6" y="118.1" font-size="7.9" font-weight="normal" text-anchor="middle" fill="#e0462f" >H</text>
<line x1="168.97" y1="107.1" x2="175.6" y2="102.9" stroke="#e0462f" stroke-width="0.85" stroke-linecap="round"/>
<polygon points="175.6,102.9 171.0,93.4 181.6,93.4" fill="none" stroke="#e0462f" stroke-width="0.85" stroke-linejoin="round"/>
<polygon points="171,93.4 163.06,84.3 161.54,85.9" fill="#e0462f"/>
<line x1="162.3" y1="85.1" x2="165.6" y2="74.6" stroke="#e0462f" stroke-width="0.85" stroke-linecap="round"/>
<line x1="164.6" y1="84.5" x2="167.6" y2="75.2" stroke="#e0462f" stroke-width="0.85" stroke-linecap="round"/>
<polygon points="175.6,102.9 184.43,109.54 185.57,107.66" fill="#e0462f"/>
<line x1="184" y1="108.6" x2="184" y2="116.1" stroke="#e0462f" stroke-width="0.85" stroke-linecap="round"/>
<line x1="186" y1="108.6" x2="186" y2="116.1" stroke="#e0462f" stroke-width="0.85" stroke-linecap="round"/>
<text x="184.8" y="122.4" font-size="7.9" font-weight="normal" text-anchor="middle" fill="#e0462f" >O</text>
<line x1="185" y1="108.6" x2="192.64" y2="104.44" stroke="#e0462f" stroke-width="0.85" stroke-linecap="round"/>
<text x="195.1" y="105.9" font-size="7.9" font-weight="normal" text-anchor="middle" fill="#e0462f" >N</text>
<text x="195.1" y="99.3" font-size="7.9" font-weight="normal" text-anchor="middle" fill="#e0462f" >H</text>
<polygon points="214.8,102.9 224.85,108.7 224.85,120.3 214.8,126.1 204.75,120.3 204.75,108.7" fill="none" stroke="#2a2a2a" stroke-width="0.85"/>
<line x1="215.24" y1="105.35" x2="222.51" y2="109.55" stroke="#6a6a6a" stroke-width="0.75" />
<line x1="222.51" y1="119.45" x2="215.24" y2="123.65" stroke="#6a6a6a" stroke-width="0.75" />
<line x1="206.65" y1="118.7" x2="206.65" y2="110.3" stroke="#6a6a6a" stroke-width="0.75" />
<line x1="197.52" y1="104.5" x2="204.75" y2="108.7" stroke="#2a2a2a" stroke-width="0.85" stroke-linecap="round"/>
<line x1="224.85" y1="120.3" x2="234" y2="125" stroke="#2a2a2a" stroke-width="0.85" stroke-linecap="round"/>
<line x1="233" y1="125" x2="233" y2="132.8" stroke="#2a2a2a" stroke-width="0.85" stroke-linecap="round"/>
<line x1="235" y1="125" x2="235" y2="132.8" stroke="#2a2a2a" stroke-width="0.85" stroke-linecap="round"/>
<text x="233.7" y="139.4" font-size="7.9" font-weight="normal" text-anchor="middle" fill="#1a1a1a" >O</text>
<line x1="234" y1="125" x2="240.89" y2="120.93" stroke="#2a2a2a" stroke-width="0.85" stroke-linecap="round"/>
<text x="243.3" y="122.3" font-size="7.9" font-weight="normal" text-anchor="middle" fill="#1a1a1a" >N</text>
<text x="243.3" y="115.8" font-size="7.9" font-weight="normal" text-anchor="middle" fill="#1a1a1a" >H</text>
<polygon points="262.5,119.15 272.46,124.9 272.46,136.4 262.5,142.15 252.54,136.4 252.54,124.9" fill="none" stroke="#2a2a2a" stroke-width="0.85"/>
<line x1="262.94" y1="121.6" x2="270.12" y2="125.75" stroke="#6a6a6a" stroke-width="0.75" />
<line x1="270.12" y1="135.55" x2="262.94" y2="139.7" stroke="#6a6a6a" stroke-width="0.75" />
<line x1="254.44" y1="134.8" x2="254.44" y2="126.5" stroke="#6a6a6a" stroke-width="0.75" />
<line x1="245.72" y1="120.91" x2="252.54" y2="124.9" stroke="#2a2a2a" stroke-width="0.85" stroke-linecap="round"/>
<line x1="262.5" y1="119.15" x2="262.5" y2="111.4" stroke="#2a2a2a" stroke-width="0.85" stroke-linecap="round"/>
<text x="262.5" y="111" font-size="7.9" font-weight="normal" text-anchor="middle" fill="#1a1a1a" >O</text>
<line x1="264.68" y1="107.19" x2="272.4" y2="102.2" stroke="#2a2a2a" stroke-width="0.85" stroke-linecap="round"/>
<line x1="272.4" y1="102.2" x2="272.4" y2="91" stroke="#2a2a2a" stroke-width="0.85" stroke-linecap="round"/>
<line x1="272.4" y1="102.2" x2="282.2" y2="107.9" stroke="#2a2a2a" stroke-width="0.85" stroke-linecap="round"/>
<line x1="272.46" y1="124.9" x2="279.57" y2="120.66" stroke="#2a2a2a" stroke-width="0.85" stroke-linecap="round"/>
<text x="279.4" y="122.6" font-size="7.9" font-weight="normal" text-anchor="start" fill="#1a1a1a" textLength="10.5" lengthAdjust="spacingAndGlyphs" >OH</text>
<line x1="272.46" y1="136.4" x2="282.3" y2="142.2" stroke="#2a2a2a" stroke-width="0.85" stroke-linecap="round"/>
<line x1="281.3" y1="142.2" x2="281.3" y2="150.2" stroke="#2a2a2a" stroke-width="0.85" stroke-linecap="round"/>
<line x1="283.3" y1="142.2" x2="283.3" y2="150.2" stroke="#2a2a2a" stroke-width="0.85" stroke-linecap="round"/>
<text x="282" y="156.7" font-size="7.9" font-weight="normal" text-anchor="middle" fill="#1a1a1a" >O</text>
<line x1="282.3" y1="142.2" x2="289.59" y2="137.92" stroke="#2a2a2a" stroke-width="0.85" stroke-linecap="round"/>
<text x="292" y="139.3" font-size="7.9" font-weight="normal" text-anchor="middle" fill="#1a1a1a" >N</text>
<text x="292" y="132.9" font-size="7.9" font-weight="normal" text-anchor="middle" fill="#1a1a1a" >H</text>
<polygon points="311.6,135.6 321.65,141.4 321.65,153 311.6,158.8 301.55,153 301.55,141.4" fill="none" stroke="#2a2a2a" stroke-width="0.85"/>
<line x1="312.04" y1="138.05" x2="319.31" y2="142.25" stroke="#6a6a6a" stroke-width="0.75" />
<line x1="319.31" y1="152.15" x2="312.04" y2="156.35" stroke="#6a6a6a" stroke-width="0.75" />
<line x1="303.45" y1="151.4" x2="303.45" y2="143" stroke="#6a6a6a" stroke-width="0.75" />
<line x1="294.49" y1="137.78" x2="301.55" y2="141.4" stroke="#2a2a2a" stroke-width="0.85" stroke-linecap="round"/>
<line x1="321.65" y1="153" x2="331.5" y2="159" stroke="#2a2a2a" stroke-width="0.85" stroke-linecap="round"/>
<line x1="330.5" y1="159" x2="330.5" y2="167" stroke="#2a2a2a" stroke-width="0.85" stroke-linecap="round"/>
<line x1="332.5" y1="159" x2="332.5" y2="167" stroke="#2a2a2a" stroke-width="0.85" stroke-linecap="round"/>
<text x="331.2" y="173.4" font-size="7.9" font-weight="normal" text-anchor="middle" fill="#1a1a1a" >O</text>
<line x1="331.5" y1="159" x2="338.5" y2="154.8" stroke="#2a2a2a" stroke-width="0.85" stroke-linecap="round"/>
<text x="338.3" y="157" font-size="7.9" font-weight="normal" text-anchor="start" fill="#1a1a1a" textLength="10.5" lengthAdjust="spacingAndGlyphs" >OH</text>
<text x="159.9" y="146.9" font-size="8.8" font-weight="bold" text-anchor="start" fill="#000" textLength="44.1" lengthAdjust="spacingAndGlyphs" >Cysto-180</text>
</svg>
</body></html>
